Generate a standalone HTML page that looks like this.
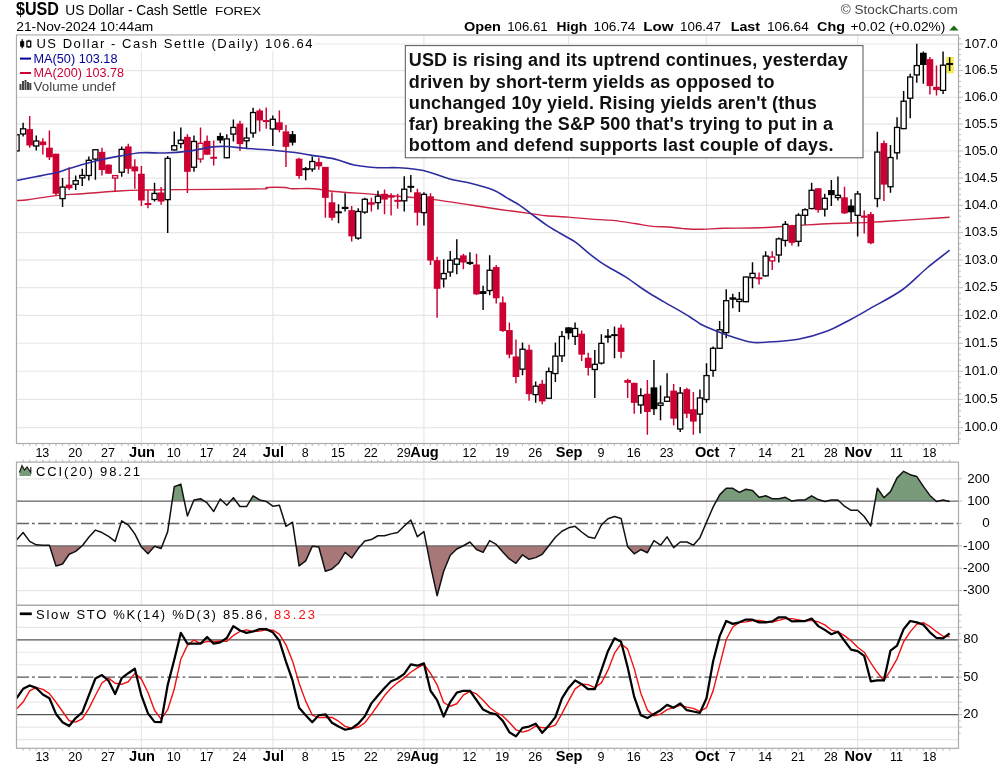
<!DOCTYPE html>
<html><head><meta charset="utf-8"><title>$USD</title><style>html,body{margin:0;padding:0;background:#fff;}body{width:1004px;height:769px;overflow:hidden;font-family:"Liberation Sans",sans-serif;}</style></head><body>
<svg width="1004" height="769" viewBox="0 0 1004 769" style="display:block;will-change:transform">
<rect x="0" y="0" width="1004" height="769" fill="#ffffff"/>
<text x="16" y="15.3" font-family="Liberation Sans, sans-serif" font-size="18.5" font-weight="bold" fill="#000" textLength="43" lengthAdjust="spacingAndGlyphs">$USD</text>
<text x="65.3" y="15.0" font-family="Liberation Sans, sans-serif" font-size="14" fill="#000" textLength="142" lengthAdjust="spacingAndGlyphs">US Dollar - Cash Settle</text>
<text x="215" y="15.0" font-family="Liberation Sans, sans-serif" font-size="11.5" fill="#000" textLength="46" lengthAdjust="spacingAndGlyphs">FOREX</text>
<text x="16.3" y="31" font-family="Liberation Sans, sans-serif" font-size="12" fill="#000" textLength="137" lengthAdjust="spacingAndGlyphs">21-Nov-2024 10:44am</text>
<text x="840.8" y="14" font-family="Liberation Sans, sans-serif" font-size="12" fill="#444" textLength="117" lengthAdjust="spacingAndGlyphs">© StockCharts.com</text>
<text x="463.9" y="30.7" font-family="Liberation Sans, sans-serif" font-size="13" font-weight="bold" fill="#000" textLength="37.1" lengthAdjust="spacingAndGlyphs">Open</text>
<text x="507.2" y="30.7" font-family="Liberation Sans, sans-serif" font-size="13" fill="#000" textLength="40.4" lengthAdjust="spacingAndGlyphs">106.61</text>
<text x="556.5" y="30.7" font-family="Liberation Sans, sans-serif" font-size="13" font-weight="bold" fill="#000" textLength="30.7" lengthAdjust="spacingAndGlyphs">High</text>
<text x="593.6" y="30.7" font-family="Liberation Sans, sans-serif" font-size="13" fill="#000" textLength="41.8" lengthAdjust="spacingAndGlyphs">106.74</text>
<text x="643.3" y="30.7" font-family="Liberation Sans, sans-serif" font-size="13" font-weight="bold" fill="#000" textLength="30.3" lengthAdjust="spacingAndGlyphs">Low</text>
<text x="680" y="30.7" font-family="Liberation Sans, sans-serif" font-size="13" fill="#000" textLength="41.0" lengthAdjust="spacingAndGlyphs">106.47</text>
<text x="730.7" y="30.7" font-family="Liberation Sans, sans-serif" font-size="13" font-weight="bold" fill="#000" textLength="29.3" lengthAdjust="spacingAndGlyphs">Last</text>
<text x="766.9" y="30.7" font-family="Liberation Sans, sans-serif" font-size="13" fill="#000" textLength="41.9" lengthAdjust="spacingAndGlyphs">106.64</text>
<text x="817.1" y="30.7" font-family="Liberation Sans, sans-serif" font-size="13" font-weight="bold" fill="#000" textLength="27.9" lengthAdjust="spacingAndGlyphs">Chg</text>
<text x="850.6" y="30.7" font-family="Liberation Sans, sans-serif" font-size="13" fill="#000" textLength="94.8" lengthAdjust="spacingAndGlyphs">+0.02 (+0.02%)</text>
<path d="M949.2 30.5 L958.6 30.5 L953.9 25.5 Z" fill="#1a6a1a"/>
<line x1="16.5" x2="958.5" y1="427.70" y2="427.70" stroke="#e7e7e7" stroke-width="1.2"/>
<line x1="16.5" x2="958.5" y1="399.42" y2="399.42" stroke="#e7e7e7" stroke-width="1.2"/>
<line x1="16.5" x2="958.5" y1="371.27" y2="371.27" stroke="#e7e7e7" stroke-width="1.2"/>
<line x1="16.5" x2="958.5" y1="343.27" y2="343.27" stroke="#e7e7e7" stroke-width="1.2"/>
<line x1="16.5" x2="958.5" y1="315.40" y2="315.40" stroke="#e7e7e7" stroke-width="1.2"/>
<line x1="16.5" x2="958.5" y1="287.67" y2="287.67" stroke="#e7e7e7" stroke-width="1.2"/>
<line x1="16.5" x2="958.5" y1="260.07" y2="260.07" stroke="#e7e7e7" stroke-width="1.2"/>
<line x1="16.5" x2="958.5" y1="232.61" y2="232.61" stroke="#e7e7e7" stroke-width="1.2"/>
<line x1="16.5" x2="958.5" y1="205.28" y2="205.28" stroke="#e7e7e7" stroke-width="1.2"/>
<line x1="16.5" x2="958.5" y1="178.08" y2="178.08" stroke="#e7e7e7" stroke-width="1.2"/>
<line x1="16.5" x2="958.5" y1="151.01" y2="151.01" stroke="#e7e7e7" stroke-width="1.2"/>
<line x1="16.5" x2="958.5" y1="124.07" y2="124.07" stroke="#e7e7e7" stroke-width="1.2"/>
<line x1="16.5" x2="958.5" y1="97.26" y2="97.26" stroke="#e7e7e7" stroke-width="1.2"/>
<line x1="16.5" x2="958.5" y1="70.57" y2="70.57" stroke="#e7e7e7" stroke-width="1.2"/>
<line x1="16.5" x2="958.5" y1="44.01" y2="44.01" stroke="#e7e7e7" stroke-width="1.2"/>
<line x1="141.40" x2="141.40" y1="35.0" y2="443.5" stroke="#e7e7e7" stroke-width="1.2"/>
<line x1="141.40" x2="141.40" y1="462.1" y2="605.3" stroke="#e7e7e7" stroke-width="1.2"/>
<line x1="141.40" x2="141.40" y1="605.3" y2="748.3" stroke="#e7e7e7" stroke-width="1.2"/>
<line x1="272.82" x2="272.82" y1="35.0" y2="443.5" stroke="#e7e7e7" stroke-width="1.2"/>
<line x1="272.82" x2="272.82" y1="462.1" y2="605.3" stroke="#e7e7e7" stroke-width="1.2"/>
<line x1="272.82" x2="272.82" y1="605.3" y2="748.3" stroke="#e7e7e7" stroke-width="1.2"/>
<line x1="423.95" x2="423.95" y1="35.0" y2="443.5" stroke="#e7e7e7" stroke-width="1.2"/>
<line x1="423.95" x2="423.95" y1="462.1" y2="605.3" stroke="#e7e7e7" stroke-width="1.2"/>
<line x1="423.95" x2="423.95" y1="605.3" y2="748.3" stroke="#e7e7e7" stroke-width="1.2"/>
<line x1="568.51" x2="568.51" y1="35.0" y2="443.5" stroke="#e7e7e7" stroke-width="1.2"/>
<line x1="568.51" x2="568.51" y1="462.1" y2="605.3" stroke="#e7e7e7" stroke-width="1.2"/>
<line x1="568.51" x2="568.51" y1="605.3" y2="748.3" stroke="#e7e7e7" stroke-width="1.2"/>
<line x1="706.51" x2="706.51" y1="35.0" y2="443.5" stroke="#e7e7e7" stroke-width="1.2"/>
<line x1="706.51" x2="706.51" y1="462.1" y2="605.3" stroke="#e7e7e7" stroke-width="1.2"/>
<line x1="706.51" x2="706.51" y1="605.3" y2="748.3" stroke="#e7e7e7" stroke-width="1.2"/>
<line x1="857.64" x2="857.64" y1="35.0" y2="443.5" stroke="#e7e7e7" stroke-width="1.2"/>
<line x1="857.64" x2="857.64" y1="462.1" y2="605.3" stroke="#e7e7e7" stroke-width="1.2"/>
<line x1="857.64" x2="857.64" y1="605.3" y2="748.3" stroke="#e7e7e7" stroke-width="1.2"/>
<line x1="958.5" x2="961.0" y1="439.05" y2="439.05" stroke="#bbb" stroke-width="1"/>
<line x1="958.5" x2="961.0" y1="433.37" y2="433.37" stroke="#bbb" stroke-width="1"/>
<line x1="958.5" x2="963.0" y1="427.70" y2="427.70" stroke="#bbb" stroke-width="1"/>
<line x1="958.5" x2="961.0" y1="422.03" y2="422.03" stroke="#bbb" stroke-width="1"/>
<line x1="958.5" x2="961.0" y1="416.37" y2="416.37" stroke="#bbb" stroke-width="1"/>
<line x1="958.5" x2="961.0" y1="410.71" y2="410.71" stroke="#bbb" stroke-width="1"/>
<line x1="958.5" x2="961.0" y1="405.06" y2="405.06" stroke="#bbb" stroke-width="1"/>
<line x1="958.5" x2="963.0" y1="399.42" y2="399.42" stroke="#bbb" stroke-width="1"/>
<line x1="958.5" x2="961.0" y1="393.78" y2="393.78" stroke="#bbb" stroke-width="1"/>
<line x1="958.5" x2="961.0" y1="388.14" y2="388.14" stroke="#bbb" stroke-width="1"/>
<line x1="958.5" x2="961.0" y1="382.51" y2="382.51" stroke="#bbb" stroke-width="1"/>
<line x1="958.5" x2="961.0" y1="376.89" y2="376.89" stroke="#bbb" stroke-width="1"/>
<line x1="958.5" x2="963.0" y1="371.27" y2="371.27" stroke="#bbb" stroke-width="1"/>
<line x1="958.5" x2="961.0" y1="365.66" y2="365.66" stroke="#bbb" stroke-width="1"/>
<line x1="958.5" x2="961.0" y1="360.05" y2="360.05" stroke="#bbb" stroke-width="1"/>
<line x1="958.5" x2="961.0" y1="354.45" y2="354.45" stroke="#bbb" stroke-width="1"/>
<line x1="958.5" x2="961.0" y1="348.86" y2="348.86" stroke="#bbb" stroke-width="1"/>
<line x1="958.5" x2="963.0" y1="343.27" y2="343.27" stroke="#bbb" stroke-width="1"/>
<line x1="958.5" x2="961.0" y1="337.68" y2="337.68" stroke="#bbb" stroke-width="1"/>
<line x1="958.5" x2="961.0" y1="332.10" y2="332.10" stroke="#bbb" stroke-width="1"/>
<line x1="958.5" x2="961.0" y1="326.53" y2="326.53" stroke="#bbb" stroke-width="1"/>
<line x1="958.5" x2="961.0" y1="320.96" y2="320.96" stroke="#bbb" stroke-width="1"/>
<line x1="958.5" x2="963.0" y1="315.40" y2="315.40" stroke="#bbb" stroke-width="1"/>
<line x1="958.5" x2="961.0" y1="309.84" y2="309.84" stroke="#bbb" stroke-width="1"/>
<line x1="958.5" x2="961.0" y1="304.29" y2="304.29" stroke="#bbb" stroke-width="1"/>
<line x1="958.5" x2="961.0" y1="298.74" y2="298.74" stroke="#bbb" stroke-width="1"/>
<line x1="958.5" x2="961.0" y1="293.20" y2="293.20" stroke="#bbb" stroke-width="1"/>
<line x1="958.5" x2="963.0" y1="287.67" y2="287.67" stroke="#bbb" stroke-width="1"/>
<line x1="958.5" x2="961.0" y1="282.14" y2="282.14" stroke="#bbb" stroke-width="1"/>
<line x1="958.5" x2="961.0" y1="276.61" y2="276.61" stroke="#bbb" stroke-width="1"/>
<line x1="958.5" x2="961.0" y1="271.09" y2="271.09" stroke="#bbb" stroke-width="1"/>
<line x1="958.5" x2="961.0" y1="265.58" y2="265.58" stroke="#bbb" stroke-width="1"/>
<line x1="958.5" x2="963.0" y1="260.07" y2="260.07" stroke="#bbb" stroke-width="1"/>
<line x1="958.5" x2="961.0" y1="254.57" y2="254.57" stroke="#bbb" stroke-width="1"/>
<line x1="958.5" x2="961.0" y1="249.07" y2="249.07" stroke="#bbb" stroke-width="1"/>
<line x1="958.5" x2="961.0" y1="243.58" y2="243.58" stroke="#bbb" stroke-width="1"/>
<line x1="958.5" x2="961.0" y1="238.09" y2="238.09" stroke="#bbb" stroke-width="1"/>
<line x1="958.5" x2="963.0" y1="232.61" y2="232.61" stroke="#bbb" stroke-width="1"/>
<line x1="958.5" x2="961.0" y1="227.13" y2="227.13" stroke="#bbb" stroke-width="1"/>
<line x1="958.5" x2="961.0" y1="221.66" y2="221.66" stroke="#bbb" stroke-width="1"/>
<line x1="958.5" x2="961.0" y1="216.20" y2="216.20" stroke="#bbb" stroke-width="1"/>
<line x1="958.5" x2="961.0" y1="210.73" y2="210.73" stroke="#bbb" stroke-width="1"/>
<line x1="958.5" x2="963.0" y1="205.28" y2="205.28" stroke="#bbb" stroke-width="1"/>
<line x1="958.5" x2="961.0" y1="199.83" y2="199.83" stroke="#bbb" stroke-width="1"/>
<line x1="958.5" x2="961.0" y1="194.38" y2="194.38" stroke="#bbb" stroke-width="1"/>
<line x1="958.5" x2="961.0" y1="188.94" y2="188.94" stroke="#bbb" stroke-width="1"/>
<line x1="958.5" x2="961.0" y1="183.51" y2="183.51" stroke="#bbb" stroke-width="1"/>
<line x1="958.5" x2="963.0" y1="178.08" y2="178.08" stroke="#bbb" stroke-width="1"/>
<line x1="958.5" x2="961.0" y1="172.66" y2="172.66" stroke="#bbb" stroke-width="1"/>
<line x1="958.5" x2="961.0" y1="167.24" y2="167.24" stroke="#bbb" stroke-width="1"/>
<line x1="958.5" x2="961.0" y1="161.82" y2="161.82" stroke="#bbb" stroke-width="1"/>
<line x1="958.5" x2="961.0" y1="156.41" y2="156.41" stroke="#bbb" stroke-width="1"/>
<line x1="958.5" x2="963.0" y1="151.01" y2="151.01" stroke="#bbb" stroke-width="1"/>
<line x1="958.5" x2="961.0" y1="145.61" y2="145.61" stroke="#bbb" stroke-width="1"/>
<line x1="958.5" x2="961.0" y1="140.22" y2="140.22" stroke="#bbb" stroke-width="1"/>
<line x1="958.5" x2="961.0" y1="134.83" y2="134.83" stroke="#bbb" stroke-width="1"/>
<line x1="958.5" x2="961.0" y1="129.45" y2="129.45" stroke="#bbb" stroke-width="1"/>
<line x1="958.5" x2="963.0" y1="124.07" y2="124.07" stroke="#bbb" stroke-width="1"/>
<line x1="958.5" x2="961.0" y1="118.70" y2="118.70" stroke="#bbb" stroke-width="1"/>
<line x1="958.5" x2="961.0" y1="113.33" y2="113.33" stroke="#bbb" stroke-width="1"/>
<line x1="958.5" x2="961.0" y1="107.97" y2="107.97" stroke="#bbb" stroke-width="1"/>
<line x1="958.5" x2="961.0" y1="102.61" y2="102.61" stroke="#bbb" stroke-width="1"/>
<line x1="958.5" x2="963.0" y1="97.26" y2="97.26" stroke="#bbb" stroke-width="1"/>
<line x1="958.5" x2="961.0" y1="91.91" y2="91.91" stroke="#bbb" stroke-width="1"/>
<line x1="958.5" x2="961.0" y1="86.57" y2="86.57" stroke="#bbb" stroke-width="1"/>
<line x1="958.5" x2="961.0" y1="81.23" y2="81.23" stroke="#bbb" stroke-width="1"/>
<line x1="958.5" x2="961.0" y1="75.90" y2="75.90" stroke="#bbb" stroke-width="1"/>
<line x1="958.5" x2="963.0" y1="70.57" y2="70.57" stroke="#bbb" stroke-width="1"/>
<line x1="958.5" x2="961.0" y1="65.25" y2="65.25" stroke="#bbb" stroke-width="1"/>
<line x1="958.5" x2="961.0" y1="59.93" y2="59.93" stroke="#bbb" stroke-width="1"/>
<line x1="958.5" x2="961.0" y1="54.62" y2="54.62" stroke="#bbb" stroke-width="1"/>
<line x1="958.5" x2="961.0" y1="49.31" y2="49.31" stroke="#bbb" stroke-width="1"/>
<line x1="958.5" x2="963.0" y1="44.01" y2="44.01" stroke="#bbb" stroke-width="1"/>
<line x1="958.5" x2="961.0" y1="38.71" y2="38.71" stroke="#bbb" stroke-width="1"/>
<text x="964.2" y="431.20" font-family="Liberation Sans, sans-serif" font-size="13.3" fill="#000" textLength="33.6" lengthAdjust="spacingAndGlyphs">100.0</text>
<text x="964.2" y="402.92" font-family="Liberation Sans, sans-serif" font-size="13.3" fill="#000" textLength="33.6" lengthAdjust="spacingAndGlyphs">100.5</text>
<text x="964.2" y="374.77" font-family="Liberation Sans, sans-serif" font-size="13.3" fill="#000" textLength="33.6" lengthAdjust="spacingAndGlyphs">101.0</text>
<text x="964.2" y="346.77" font-family="Liberation Sans, sans-serif" font-size="13.3" fill="#000" textLength="33.6" lengthAdjust="spacingAndGlyphs">101.5</text>
<text x="964.2" y="318.90" font-family="Liberation Sans, sans-serif" font-size="13.3" fill="#000" textLength="33.6" lengthAdjust="spacingAndGlyphs">102.0</text>
<text x="964.2" y="291.17" font-family="Liberation Sans, sans-serif" font-size="13.3" fill="#000" textLength="33.6" lengthAdjust="spacingAndGlyphs">102.5</text>
<text x="964.2" y="263.57" font-family="Liberation Sans, sans-serif" font-size="13.3" fill="#000" textLength="33.6" lengthAdjust="spacingAndGlyphs">103.0</text>
<text x="964.2" y="236.11" font-family="Liberation Sans, sans-serif" font-size="13.3" fill="#000" textLength="33.6" lengthAdjust="spacingAndGlyphs">103.5</text>
<text x="964.2" y="208.78" font-family="Liberation Sans, sans-serif" font-size="13.3" fill="#000" textLength="33.6" lengthAdjust="spacingAndGlyphs">104.0</text>
<text x="964.2" y="181.58" font-family="Liberation Sans, sans-serif" font-size="13.3" fill="#000" textLength="33.6" lengthAdjust="spacingAndGlyphs">104.5</text>
<text x="964.2" y="154.51" font-family="Liberation Sans, sans-serif" font-size="13.3" fill="#000" textLength="33.6" lengthAdjust="spacingAndGlyphs">105.0</text>
<text x="964.2" y="127.57" font-family="Liberation Sans, sans-serif" font-size="13.3" fill="#000" textLength="33.6" lengthAdjust="spacingAndGlyphs">105.5</text>
<text x="964.2" y="100.76" font-family="Liberation Sans, sans-serif" font-size="13.3" fill="#000" textLength="33.6" lengthAdjust="spacingAndGlyphs">106.0</text>
<text x="964.2" y="74.07" font-family="Liberation Sans, sans-serif" font-size="13.3" fill="#000" textLength="33.6" lengthAdjust="spacingAndGlyphs">106.5</text>
<text x="964.2" y="47.51" font-family="Liberation Sans, sans-serif" font-size="13.3" fill="#000" textLength="33.6" lengthAdjust="spacingAndGlyphs">107.0</text>
<path d="M16.50 200.50 C18.45 200.37 21.70 200.52 28.20 199.70 C34.70 198.88 46.40 196.60 55.50 195.60 C64.60 194.60 72.18 194.47 82.80 193.70 C93.42 192.93 109.48 191.60 119.20 191.00 C128.92 190.40 130.97 190.33 141.10 190.10 C151.23 189.87 160.25 189.80 180.00 189.60 C199.75 189.40 245.12 189.25 259.60 188.90 C274.08 188.55 262.65 187.73 266.90 187.50 C271.15 187.27 280.85 187.30 285.10 187.50 C289.35 187.70 287.53 188.50 292.40 188.70 C297.27 188.90 307.20 188.23 314.30 188.70 C321.40 189.17 325.63 190.60 335.00 191.50 C344.37 192.40 360.03 193.30 370.50 194.10 C380.97 194.90 390.22 195.68 397.80 196.30 C405.38 196.92 409.93 197.25 416.00 197.80 C422.07 198.35 425.10 198.40 434.20 199.60 C443.30 200.80 460.47 203.48 470.60 205.00 C480.73 206.52 489.75 207.90 495.00 208.70 C500.25 209.50 496.12 208.98 502.10 209.80 C508.08 210.62 523.53 212.60 530.90 213.60 C538.27 214.60 540.05 215.22 546.30 215.80 C552.55 216.38 561.03 216.55 568.40 217.10 C575.77 217.65 583.12 218.55 590.50 219.10 C597.88 219.65 605.32 219.67 612.70 220.40 C620.08 221.13 628.17 222.50 634.80 223.50 C641.43 224.50 646.98 225.82 652.50 226.40 C658.02 226.98 662.75 226.63 667.90 227.00 C673.05 227.37 678.05 228.22 683.40 228.60 C688.75 228.98 693.28 229.37 700.00 229.30 C706.72 229.23 713.70 228.45 723.70 228.20 C733.70 227.95 747.28 228.28 760.00 227.80 C772.72 227.32 787.87 226.02 800.00 225.30 C812.13 224.58 821.13 223.98 832.80 223.50 C844.47 223.02 857.87 222.97 870.00 222.40 C882.13 221.83 895.60 220.75 905.60 220.10 C915.60 219.45 922.67 218.97 930.00 218.50 C937.33 218.03 946.33 217.50 949.60 217.30" fill="none" stroke="#cc2244" stroke-width="1.4"/>
<rect x="946.1" y="56.9" width="7.7" height="16.4" fill="#f2ec50"/>
<clipPath id="cm"><rect x="16.5" y="35.0" width="942.0" height="408.5"/></clipPath>
<g clip-path="url(#cm)">
<line x1="16.55" x2="16.55" y1="134.22" y2="151.51" stroke="#000000" stroke-width="1.45"/>
<rect x="14.00" y="134.82" width="5.10" height="16.09" fill="#fff" stroke="#000000" stroke-width="1.3"/>
<line x1="23.12" x2="23.12" y1="122.75" y2="136.40" stroke="#000000" stroke-width="1.45"/>
<rect x="20.57" y="128.81" width="5.10" height="5.17" fill="#fff" stroke="#000000" stroke-width="1.3"/>
<line x1="29.69" x2="29.69" y1="116.02" y2="147.69" stroke="#cc0033" stroke-width="1.45"/>
<rect x="26.34" y="129.12" width="6.70" height="16.38" fill="#cc0033"/>
<line x1="36.26" x2="36.26" y1="135.49" y2="150.60" stroke="#000000" stroke-width="1.45"/>
<rect x="33.71" y="141.01" width="5.10" height="4.99" fill="#fff" stroke="#000000" stroke-width="1.3"/>
<line x1="42.84" x2="42.84" y1="138.22" y2="154.61" stroke="#cc0033" stroke-width="1.45"/>
<rect x="39.49" y="141.50" width="6.70" height="3.64" fill="#cc0033"/>
<line x1="49.41" x2="49.41" y1="130.58" y2="160.07" stroke="#cc0033" stroke-width="1.45"/>
<rect x="46.06" y="147.69" width="6.70" height="9.65" fill="#cc0033"/>
<line x1="55.98" x2="55.98" y1="153.69" y2="195.56" stroke="#cc0033" stroke-width="1.45"/>
<rect x="52.63" y="153.69" width="6.70" height="40.04" fill="#cc0033"/>
<line x1="62.55" x2="62.55" y1="177.90" y2="207.03" stroke="#000000" stroke-width="1.45"/>
<rect x="60.00" y="187.06" width="5.10" height="11.54" fill="#fff" stroke="#000000" stroke-width="1.3"/>
<line x1="69.12" x2="69.12" y1="167.35" y2="190.10" stroke="#cc0033" stroke-width="1.45"/>
<rect x="65.77" y="184.64" width="6.70" height="3.64" fill="#cc0033"/>
<line x1="75.69" x2="75.69" y1="175.54" y2="190.10" stroke="#000000" stroke-width="1.45"/>
<rect x="73.14" y="180.69" width="5.10" height="3.53" fill="#fff" stroke="#000000" stroke-width="1.3"/>
<line x1="82.26" x2="82.26" y1="168.80" y2="185.91" stroke="#000000" stroke-width="1.45"/>
<rect x="79.71" y="175.41" width="5.10" height="2.44" fill="#fff" stroke="#000000" stroke-width="1.3"/>
<line x1="88.83" x2="88.83" y1="156.43" y2="180.45" stroke="#000000" stroke-width="1.45"/>
<rect x="86.28" y="160.30" width="5.10" height="15.18" fill="#fff" stroke="#000000" stroke-width="1.3"/>
<line x1="95.40" x2="95.40" y1="149.14" y2="179.72" stroke="#000000" stroke-width="1.45"/>
<rect x="92.85" y="149.74" width="5.10" height="9.36" fill="#fff" stroke="#000000" stroke-width="1.3"/>
<line x1="101.97" x2="101.97" y1="147.69" y2="175.54" stroke="#cc0033" stroke-width="1.45"/>
<rect x="98.62" y="151.87" width="6.70" height="18.20" fill="#cc0033"/>
<line x1="108.55" x2="108.55" y1="164.62" y2="173.72" stroke="#cc0033" stroke-width="1.45"/>
<rect x="105.20" y="164.62" width="6.70" height="9.10" fill="#cc0033"/>
<line x1="115.12" x2="115.12" y1="174.99" y2="191.92" stroke="#cc0033" stroke-width="1.45"/>
<rect x="112.57" y="175.59" width="5.10" height="2.44" fill="#fff" stroke="#cc0033" stroke-width="1.3"/>
<line x1="121.69" x2="121.69" y1="146.41" y2="176.81" stroke="#000000" stroke-width="1.45"/>
<rect x="119.14" y="149.38" width="5.10" height="22.83" fill="#fff" stroke="#000000" stroke-width="1.3"/>
<line x1="128.26" x2="128.26" y1="143.68" y2="173.72" stroke="#cc0033" stroke-width="1.45"/>
<rect x="124.91" y="146.41" width="6.70" height="22.39" fill="#cc0033"/>
<line x1="134.83" x2="134.83" y1="159.16" y2="188.82" stroke="#cc0033" stroke-width="1.45"/>
<rect x="131.48" y="166.44" width="6.70" height="4.91" fill="#cc0033"/>
<line x1="141.40" x2="141.40" y1="165.89" y2="205.93" stroke="#cc0033" stroke-width="1.45"/>
<rect x="138.05" y="173.72" width="6.70" height="26.76" fill="#cc0033"/>
<line x1="147.97" x2="147.97" y1="190.10" y2="208.30" stroke="#cc0033" stroke-width="1.45"/>
<rect x="144.62" y="203.02" width="6.70" height="2.00" fill="#cc0033"/>
<line x1="154.54" x2="154.54" y1="182.82" y2="201.57" stroke="#000000" stroke-width="1.45"/>
<rect x="151.99" y="193.43" width="5.10" height="6.08" fill="#fff" stroke="#000000" stroke-width="1.3"/>
<line x1="161.11" x2="161.11" y1="187.00" y2="204.66" stroke="#cc0033" stroke-width="1.45"/>
<rect x="157.76" y="192.46" width="6.70" height="9.10" fill="#cc0033"/>
<line x1="167.68" x2="167.68" y1="155.98" y2="232.97" stroke="#000000" stroke-width="1.45"/>
<rect x="165.13" y="158.40" width="5.10" height="41.21" fill="#fff" stroke="#000000" stroke-width="1.3"/>
<line x1="174.25" x2="174.25" y1="131.40" y2="150.52" stroke="#000000" stroke-width="1.45"/>
<rect x="171.70" y="145.65" width="5.10" height="4.26" fill="#fff" stroke="#000000" stroke-width="1.3"/>
<line x1="180.83" x2="180.83" y1="127.40" y2="148.15" stroke="#000000" stroke-width="1.45"/>
<rect x="178.28" y="140.19" width="5.10" height="3.35" fill="#fff" stroke="#000000" stroke-width="1.3"/>
<line x1="187.40" x2="187.40" y1="134.13" y2="192.93" stroke="#cc0033" stroke-width="1.45"/>
<rect x="184.05" y="136.86" width="6.70" height="34.95" fill="#cc0033"/>
<line x1="193.97" x2="193.97" y1="135.41" y2="171.81" stroke="#000000" stroke-width="1.45"/>
<rect x="191.42" y="141.47" width="5.10" height="25.74" fill="#fff" stroke="#000000" stroke-width="1.3"/>
<line x1="200.54" x2="200.54" y1="127.40" y2="162.71" stroke="#cc0033" stroke-width="1.45"/>
<rect x="197.99" y="143.29" width="5.10" height="15.73" fill="#fff" stroke="#cc0033" stroke-width="1.3"/>
<line x1="207.11" x2="207.11" y1="135.41" y2="154.70" stroke="#cc0033" stroke-width="1.45"/>
<rect x="203.76" y="140.87" width="6.70" height="13.83" fill="#cc0033"/>
<line x1="213.68" x2="213.68" y1="140.50" y2="165.62" stroke="#cc0033" stroke-width="1.45"/>
<rect x="210.33" y="156.80" width="6.70" height="2.00" fill="#cc0033"/>
<line x1="220.25" x2="220.25" y1="132.86" y2="143.23" stroke="#000000" stroke-width="1.45"/>
<rect x="216.90" y="135.95" width="6.70" height="4.55" fill="#000000"/>
<line x1="226.82" x2="226.82" y1="134.13" y2="158.34" stroke="#000000" stroke-width="1.45"/>
<rect x="224.27" y="138.92" width="5.10" height="18.82" fill="#fff" stroke="#000000" stroke-width="1.3"/>
<line x1="233.39" x2="233.39" y1="119.57" y2="141.41" stroke="#000000" stroke-width="1.45"/>
<rect x="230.84" y="127.45" width="5.10" height="6.63" fill="#fff" stroke="#000000" stroke-width="1.3"/>
<line x1="239.97" x2="239.97" y1="120.85" y2="151.06" stroke="#cc0033" stroke-width="1.45"/>
<rect x="236.62" y="123.58" width="6.70" height="20.57" fill="#cc0033"/>
<line x1="246.54" x2="246.54" y1="127.40" y2="148.69" stroke="#000000" stroke-width="1.45"/>
<rect x="243.99" y="138.01" width="5.10" height="2.80" fill="#fff" stroke="#000000" stroke-width="1.3"/>
<line x1="253.11" x2="253.11" y1="107.74" y2="137.77" stroke="#000000" stroke-width="1.45"/>
<rect x="250.56" y="112.53" width="5.10" height="20.46" fill="#fff" stroke="#000000" stroke-width="1.3"/>
<line x1="259.68" x2="259.68" y1="108.65" y2="131.40" stroke="#cc0033" stroke-width="1.45"/>
<rect x="256.33" y="110.47" width="6.70" height="10.01" fill="#cc0033"/>
<line x1="266.25" x2="266.25" y1="107.38" y2="128.67" stroke="#cc0033" stroke-width="1.45"/>
<rect x="262.90" y="120.03" width="6.70" height="2.00" fill="#cc0033"/>
<line x1="272.82" x2="272.82" y1="115.39" y2="145.96" stroke="#000000" stroke-width="1.45"/>
<rect x="270.27" y="119.26" width="5.10" height="9.72" fill="#fff" stroke="#000000" stroke-width="1.3"/>
<line x1="279.39" x2="279.39" y1="110.47" y2="132.31" stroke="#cc0033" stroke-width="1.45"/>
<rect x="276.04" y="122.30" width="6.70" height="7.64" fill="#cc0033"/>
<line x1="285.96" x2="285.96" y1="125.03" y2="166.90" stroke="#cc0033" stroke-width="1.45"/>
<rect x="282.61" y="131.40" width="6.70" height="15.47" fill="#cc0033"/>
<line x1="292.53" x2="292.53" y1="131.04" y2="145.60" stroke="#000000" stroke-width="1.45"/>
<rect x="289.18" y="134.13" width="6.70" height="8.55" fill="#000000"/>
<line x1="299.10" x2="299.10" y1="157.80" y2="178.73" stroke="#cc0033" stroke-width="1.45"/>
<rect x="295.75" y="158.71" width="6.70" height="17.29" fill="#cc0033"/>
<line x1="305.68" x2="305.68" y1="166.90" y2="180.18" stroke="#000000" stroke-width="1.45"/>
<rect x="302.33" y="168.17" width="6.70" height="2.00" fill="#000000"/>
<line x1="312.25" x2="312.25" y1="156.52" y2="171.81" stroke="#000000" stroke-width="1.45"/>
<rect x="309.70" y="161.49" width="5.10" height="7.54" fill="#fff" stroke="#000000" stroke-width="1.3"/>
<line x1="318.82" x2="318.82" y1="157.80" y2="169.63" stroke="#cc0033" stroke-width="1.45"/>
<rect x="315.47" y="161.98" width="6.70" height="4.37" fill="#cc0033"/>
<line x1="325.39" x2="325.39" y1="166.90" y2="217.86" stroke="#cc0033" stroke-width="1.45"/>
<rect x="322.04" y="166.90" width="6.70" height="30.94" fill="#cc0033"/>
<line x1="331.96" x2="331.96" y1="192.30" y2="220.52" stroke="#cc0033" stroke-width="1.45"/>
<rect x="328.61" y="202.31" width="6.70" height="15.47" fill="#cc0033"/>
<line x1="338.53" x2="338.53" y1="204.13" y2="223.25" stroke="#000000" stroke-width="1.45"/>
<rect x="335.18" y="211.32" width="6.70" height="2.00" fill="#000000"/>
<line x1="345.10" x2="345.10" y1="193.21" y2="211.41" stroke="#000000" stroke-width="1.45"/>
<rect x="341.75" y="206.86" width="6.70" height="2.18" fill="#000000"/>
<line x1="351.67" x2="351.67" y1="205.95" y2="241.45" stroke="#cc0033" stroke-width="1.45"/>
<rect x="348.32" y="210.14" width="6.70" height="26.21" fill="#cc0033"/>
<line x1="358.24" x2="358.24" y1="208.32" y2="239.63" stroke="#000000" stroke-width="1.45"/>
<rect x="355.69" y="211.47" width="5.10" height="26.65" fill="#fff" stroke="#000000" stroke-width="1.3"/>
<line x1="364.81" x2="364.81" y1="197.76" y2="213.78" stroke="#000000" stroke-width="1.45"/>
<rect x="362.26" y="199.27" width="5.10" height="12.82" fill="#fff" stroke="#000000" stroke-width="1.3"/>
<line x1="371.38" x2="371.38" y1="197.76" y2="211.41" stroke="#cc0033" stroke-width="1.45"/>
<rect x="368.04" y="202.31" width="6.70" height="2.37" fill="#cc0033"/>
<line x1="377.96" x2="377.96" y1="190.85" y2="209.59" stroke="#000000" stroke-width="1.45"/>
<rect x="375.41" y="196.18" width="5.10" height="6.44" fill="#fff" stroke="#000000" stroke-width="1.3"/>
<line x1="384.53" x2="384.53" y1="189.57" y2="214.14" stroke="#cc0033" stroke-width="1.45"/>
<rect x="381.18" y="193.76" width="6.70" height="5.82" fill="#cc0033"/>
<line x1="391.10" x2="391.10" y1="193.21" y2="215.60" stroke="#cc0033" stroke-width="1.45"/>
<rect x="387.75" y="195.67" width="6.70" height="2.00" fill="#cc0033"/>
<line x1="397.67" x2="397.67" y1="193.76" y2="208.68" stroke="#cc0033" stroke-width="1.45"/>
<rect x="394.32" y="199.86" width="6.70" height="2.00" fill="#cc0033"/>
<line x1="404.24" x2="404.24" y1="176.29" y2="211.41" stroke="#000000" stroke-width="1.45"/>
<rect x="401.69" y="189.26" width="5.10" height="11.54" fill="#fff" stroke="#000000" stroke-width="1.3"/>
<line x1="410.81" x2="410.81" y1="175.01" y2="192.30" stroke="#000000" stroke-width="1.45"/>
<rect x="407.46" y="185.84" width="6.70" height="2.00" fill="#000000"/>
<line x1="417.38" x2="417.38" y1="188.66" y2="225.43" stroke="#cc0033" stroke-width="1.45"/>
<rect x="414.03" y="192.30" width="6.70" height="20.39" fill="#cc0033"/>
<line x1="423.95" x2="423.95" y1="192.30" y2="225.43" stroke="#000000" stroke-width="1.45"/>
<rect x="421.40" y="194.36" width="5.10" height="18.28" fill="#fff" stroke="#000000" stroke-width="1.3"/>
<line x1="430.52" x2="430.52" y1="193.21" y2="265.11" stroke="#cc0033" stroke-width="1.45"/>
<rect x="427.17" y="196.31" width="6.70" height="64.25" fill="#cc0033"/>
<line x1="437.10" x2="437.10" y1="256.66" y2="317.78" stroke="#cc0033" stroke-width="1.45"/>
<rect x="433.75" y="260.17" width="6.70" height="28.61" fill="#cc0033"/>
<line x1="443.67" x2="443.67" y1="259.26" y2="287.48" stroke="#000000" stroke-width="1.45"/>
<rect x="441.12" y="273.51" width="5.10" height="5.30" fill="#fff" stroke="#000000" stroke-width="1.3"/>
<line x1="450.24" x2="450.24" y1="251.07" y2="276.81" stroke="#000000" stroke-width="1.45"/>
<rect x="447.69" y="260.25" width="5.10" height="11.80" fill="#fff" stroke="#000000" stroke-width="1.3"/>
<line x1="456.81" x2="456.81" y1="239.36" y2="274.21" stroke="#000000" stroke-width="1.45"/>
<rect x="454.26" y="258.95" width="5.10" height="5.30" fill="#fff" stroke="#000000" stroke-width="1.3"/>
<line x1="463.38" x2="463.38" y1="253.67" y2="269.27" stroke="#cc0033" stroke-width="1.45"/>
<rect x="460.03" y="255.36" width="6.70" height="7.15" fill="#cc0033"/>
<line x1="469.95" x2="469.95" y1="252.37" y2="265.11" stroke="#000000" stroke-width="1.45"/>
<rect x="466.60" y="261.86" width="6.70" height="2.21" fill="#000000"/>
<line x1="476.52" x2="476.52" y1="253.67" y2="295.02" stroke="#cc0033" stroke-width="1.45"/>
<rect x="473.17" y="264.46" width="6.70" height="29.91" fill="#cc0033"/>
<line x1="483.09" x2="483.09" y1="285.66" y2="309.97" stroke="#000000" stroke-width="1.45"/>
<rect x="479.74" y="291.12" width="6.70" height="2.86" fill="#000000"/>
<line x1="489.66" x2="489.66" y1="255.36" y2="295.28" stroke="#000000" stroke-width="1.45"/>
<rect x="487.11" y="270.26" width="5.10" height="20.26" fill="#fff" stroke="#000000" stroke-width="1.3"/>
<line x1="496.23" x2="496.23" y1="265.11" y2="303.47" stroke="#cc0033" stroke-width="1.45"/>
<rect x="492.88" y="267.06" width="6.70" height="31.21" fill="#cc0033"/>
<line x1="502.80" x2="502.80" y1="296.39" y2="331.89" stroke="#cc0033" stroke-width="1.45"/>
<rect x="499.45" y="302.40" width="6.70" height="28.58" fill="#cc0033"/>
<line x1="509.38" x2="509.38" y1="322.42" y2="358.28" stroke="#cc0033" stroke-width="1.45"/>
<rect x="506.03" y="330.07" width="6.70" height="24.57" fill="#cc0033"/>
<line x1="515.95" x2="515.95" y1="339.53" y2="383.21" stroke="#cc0033" stroke-width="1.45"/>
<rect x="512.60" y="356.46" width="6.70" height="20.57" fill="#cc0033"/>
<line x1="522.52" x2="522.52" y1="342.44" y2="375.21" stroke="#000000" stroke-width="1.45"/>
<rect x="519.97" y="349.23" width="5.10" height="19.91" fill="#fff" stroke="#000000" stroke-width="1.3"/>
<line x1="529.09" x2="529.09" y1="344.63" y2="400.69" stroke="#cc0033" stroke-width="1.45"/>
<rect x="525.74" y="349.72" width="6.70" height="44.41" fill="#cc0033"/>
<line x1="535.66" x2="535.66" y1="381.39" y2="402.87" stroke="#000000" stroke-width="1.45"/>
<rect x="533.11" y="386.18" width="5.10" height="8.45" fill="#fff" stroke="#000000" stroke-width="1.3"/>
<line x1="542.23" x2="542.23" y1="380.12" y2="404.33" stroke="#cc0033" stroke-width="1.45"/>
<rect x="538.88" y="383.76" width="6.70" height="17.66" fill="#cc0033"/>
<line x1="548.80" x2="548.80" y1="367.38" y2="398.87" stroke="#000000" stroke-width="1.45"/>
<rect x="546.25" y="371.62" width="5.10" height="26.65" fill="#fff" stroke="#000000" stroke-width="1.3"/>
<line x1="555.37" x2="555.37" y1="342.44" y2="381.94" stroke="#000000" stroke-width="1.45"/>
<rect x="552.82" y="356.15" width="5.10" height="17.37" fill="#fff" stroke="#000000" stroke-width="1.3"/>
<line x1="561.94" x2="561.94" y1="330.98" y2="361.92" stroke="#000000" stroke-width="1.45"/>
<rect x="559.39" y="336.49" width="5.10" height="19.37" fill="#fff" stroke="#000000" stroke-width="1.3"/>
<line x1="568.51" x2="568.51" y1="327.34" y2="339.53" stroke="#000000" stroke-width="1.45"/>
<rect x="565.16" y="327.34" width="6.70" height="6.01" fill="#000000"/>
<line x1="575.09" x2="575.09" y1="322.42" y2="344.99" stroke="#000000" stroke-width="1.45"/>
<rect x="572.54" y="328.48" width="5.10" height="7.90" fill="#fff" stroke="#000000" stroke-width="1.3"/>
<line x1="581.66" x2="581.66" y1="330.43" y2="361.01" stroke="#cc0033" stroke-width="1.45"/>
<rect x="578.31" y="333.71" width="6.70" height="20.93" fill="#cc0033"/>
<line x1="588.23" x2="588.23" y1="352.82" y2="375.57" stroke="#cc0033" stroke-width="1.45"/>
<rect x="584.88" y="357.73" width="6.70" height="10.19" fill="#cc0033"/>
<line x1="594.80" x2="594.80" y1="350.05" y2="397.93" stroke="#000000" stroke-width="1.45"/>
<rect x="592.25" y="364.31" width="5.10" height="5.17" fill="#fff" stroke="#000000" stroke-width="1.3"/>
<line x1="601.37" x2="601.37" y1="334.22" y2="364.62" stroke="#000000" stroke-width="1.45"/>
<rect x="598.82" y="343.37" width="5.10" height="19.73" fill="#fff" stroke="#000000" stroke-width="1.3"/>
<line x1="607.94" x2="607.94" y1="329.12" y2="342.77" stroke="#000000" stroke-width="1.45"/>
<rect x="604.59" y="335.49" width="6.70" height="2.37" fill="#000000"/>
<line x1="614.51" x2="614.51" y1="326.39" y2="358.25" stroke="#000000" stroke-width="1.45"/>
<rect x="611.16" y="334.13" width="6.70" height="2.00" fill="#000000"/>
<line x1="621.08" x2="621.08" y1="324.57" y2="358.25" stroke="#cc0033" stroke-width="1.45"/>
<rect x="617.73" y="327.67" width="6.70" height="24.21" fill="#cc0033"/>
<line x1="627.65" x2="627.65" y1="378.63" y2="397.93" stroke="#cc0033" stroke-width="1.45"/>
<rect x="624.30" y="380.09" width="6.70" height="2.73" fill="#cc0033"/>
<line x1="634.23" x2="634.23" y1="382.82" y2="413.76" stroke="#cc0033" stroke-width="1.45"/>
<rect x="630.88" y="382.82" width="6.70" height="20.02" fill="#cc0033"/>
<line x1="640.80" x2="640.80" y1="388.28" y2="413.76" stroke="#000000" stroke-width="1.45"/>
<rect x="638.25" y="395.61" width="5.10" height="9.36" fill="#fff" stroke="#000000" stroke-width="1.3"/>
<line x1="647.37" x2="647.37" y1="380.09" y2="434.69" stroke="#cc0033" stroke-width="1.45"/>
<rect x="644.02" y="393.74" width="6.70" height="18.20" fill="#cc0033"/>
<line x1="653.94" x2="653.94" y1="360.07" y2="415.03" stroke="#000000" stroke-width="1.45"/>
<rect x="650.59" y="387.37" width="6.70" height="21.84" fill="#000000"/>
<line x1="660.51" x2="660.51" y1="385.55" y2="420.13" stroke="#000000" stroke-width="1.45"/>
<rect x="657.96" y="403.10" width="5.10" height="2.20" fill="#fff" stroke="#000000" stroke-width="1.3"/>
<line x1="667.08" x2="667.08" y1="373.17" y2="401.93" stroke="#000000" stroke-width="1.45"/>
<rect x="664.53" y="397.07" width="5.10" height="4.26" fill="#fff" stroke="#000000" stroke-width="1.3"/>
<line x1="673.65" x2="673.65" y1="384.09" y2="425.59" stroke="#cc0033" stroke-width="1.45"/>
<rect x="670.30" y="390.64" width="6.70" height="28.03" fill="#cc0033"/>
<line x1="680.22" x2="680.22" y1="387.00" y2="431.96" stroke="#000000" stroke-width="1.45"/>
<rect x="677.67" y="393.06" width="5.10" height="35.93" fill="#fff" stroke="#000000" stroke-width="1.3"/>
<line x1="686.79" x2="686.79" y1="387.73" y2="417.95" stroke="#cc0033" stroke-width="1.45"/>
<rect x="683.44" y="389.19" width="6.70" height="24.57" fill="#cc0033"/>
<line x1="693.36" x2="693.36" y1="391.92" y2="434.69" stroke="#cc0033" stroke-width="1.45"/>
<rect x="690.01" y="409.21" width="6.70" height="12.38" fill="#cc0033"/>
<line x1="699.93" x2="699.93" y1="389.55" y2="433.24" stroke="#000000" stroke-width="1.45"/>
<rect x="697.38" y="397.98" width="5.10" height="16.09" fill="#fff" stroke="#000000" stroke-width="1.3"/>
<line x1="706.51" x2="706.51" y1="363.34" y2="402.84" stroke="#000000" stroke-width="1.45"/>
<rect x="703.96" y="375.59" width="5.10" height="23.92" fill="#fff" stroke="#000000" stroke-width="1.3"/>
<line x1="713.08" x2="713.08" y1="346.41" y2="376.81" stroke="#000000" stroke-width="1.45"/>
<rect x="710.53" y="348.29" width="5.10" height="22.10" fill="#fff" stroke="#000000" stroke-width="1.3"/>
<line x1="719.65" x2="719.65" y1="321.02" y2="348.87" stroke="#000000" stroke-width="1.45"/>
<rect x="717.10" y="329.81" width="5.10" height="18.46" fill="#fff" stroke="#000000" stroke-width="1.3"/>
<line x1="726.22" x2="726.22" y1="289.17" y2="338.31" stroke="#000000" stroke-width="1.45"/>
<rect x="723.67" y="300.69" width="5.10" height="31.93" fill="#fff" stroke="#000000" stroke-width="1.3"/>
<line x1="732.79" x2="732.79" y1="293.72" y2="308.28" stroke="#000000" stroke-width="1.45"/>
<rect x="729.44" y="297.36" width="6.70" height="2.37" fill="#000000"/>
<line x1="739.36" x2="739.36" y1="291.90" y2="311.92" stroke="#000000" stroke-width="1.45"/>
<rect x="736.81" y="299.26" width="5.10" height="2.20" fill="#fff" stroke="#000000" stroke-width="1.3"/>
<line x1="745.93" x2="745.93" y1="276.43" y2="302.27" stroke="#000000" stroke-width="1.45"/>
<rect x="743.38" y="277.03" width="5.10" height="24.65" fill="#fff" stroke="#000000" stroke-width="1.3"/>
<line x1="752.50" x2="752.50" y1="262.23" y2="288.26" stroke="#000000" stroke-width="1.45"/>
<rect x="749.95" y="273.38" width="5.10" height="4.26" fill="#fff" stroke="#000000" stroke-width="1.3"/>
<line x1="759.07" x2="759.07" y1="272.42" y2="284.62" stroke="#cc0033" stroke-width="1.45"/>
<rect x="755.72" y="277.25" width="6.70" height="2.00" fill="#cc0033"/>
<line x1="765.64" x2="765.64" y1="251.31" y2="276.43" stroke="#000000" stroke-width="1.45"/>
<rect x="763.10" y="256.09" width="5.10" height="19.73" fill="#fff" stroke="#000000" stroke-width="1.3"/>
<line x1="772.22" x2="772.22" y1="251.31" y2="270.05" stroke="#cc0033" stroke-width="1.45"/>
<rect x="769.67" y="257.00" width="5.10" height="3.90" fill="#fff" stroke="#cc0033" stroke-width="1.3"/>
<line x1="778.79" x2="778.79" y1="237.39" y2="262.51" stroke="#000000" stroke-width="1.45"/>
<rect x="776.24" y="238.90" width="5.10" height="16.09" fill="#fff" stroke="#000000" stroke-width="1.3"/>
<line x1="785.36" x2="785.36" y1="221.01" y2="246.49" stroke="#000000" stroke-width="1.45"/>
<rect x="782.81" y="224.34" width="5.10" height="16.09" fill="#fff" stroke="#000000" stroke-width="1.3"/>
<line x1="791.93" x2="791.93" y1="224.65" y2="245.58" stroke="#cc0033" stroke-width="1.45"/>
<rect x="788.58" y="225.56" width="6.70" height="17.29" fill="#cc0033"/>
<line x1="798.50" x2="798.50" y1="213.36" y2="246.49" stroke="#000000" stroke-width="1.45"/>
<rect x="795.95" y="215.24" width="5.10" height="26.10" fill="#fff" stroke="#000000" stroke-width="1.3"/>
<line x1="805.07" x2="805.07" y1="208.27" y2="224.65" stroke="#000000" stroke-width="1.45"/>
<rect x="802.52" y="209.78" width="5.10" height="5.53" fill="#fff" stroke="#000000" stroke-width="1.3"/>
<line x1="811.64" x2="811.64" y1="182.78" y2="209.18" stroke="#000000" stroke-width="1.45"/>
<rect x="809.09" y="190.30" width="5.10" height="18.28" fill="#fff" stroke="#000000" stroke-width="1.3"/>
<line x1="818.21" x2="818.21" y1="188.25" y2="212.82" stroke="#cc0033" stroke-width="1.45"/>
<rect x="814.86" y="188.25" width="6.70" height="21.84" fill="#cc0033"/>
<line x1="824.78" x2="824.78" y1="193.71" y2="216.46" stroke="#000000" stroke-width="1.45"/>
<rect x="822.23" y="198.31" width="5.10" height="10.81" fill="#fff" stroke="#000000" stroke-width="1.3"/>
<line x1="831.35" x2="831.35" y1="180.05" y2="206.08" stroke="#000000" stroke-width="1.45"/>
<rect x="828.00" y="190.07" width="6.70" height="5.10" fill="#000000"/>
<line x1="837.93" x2="837.93" y1="176.41" y2="200.62" stroke="#000000" stroke-width="1.45"/>
<rect x="835.38" y="195.34" width="5.10" height="2.20" fill="#fff" stroke="#000000" stroke-width="1.3"/>
<line x1="844.50" x2="844.50" y1="186.79" y2="214.09" stroke="#cc0033" stroke-width="1.45"/>
<rect x="841.15" y="197.35" width="6.70" height="16.02" fill="#cc0033"/>
<line x1="851.07" x2="851.07" y1="199.17" y2="221.92" stroke="#000000" stroke-width="1.45"/>
<rect x="847.72" y="205.54" width="6.70" height="6.73" fill="#000000"/>
<line x1="857.64" x2="857.64" y1="190.98" y2="236.48" stroke="#000000" stroke-width="1.45"/>
<rect x="855.09" y="193.94" width="5.10" height="21.37" fill="#fff" stroke="#000000" stroke-width="1.3"/>
<line x1="864.21" x2="864.21" y1="210.45" y2="233.39" stroke="#cc0033" stroke-width="1.45"/>
<rect x="860.86" y="215.55" width="6.70" height="2.18" fill="#cc0033"/>
<line x1="870.78" x2="870.78" y1="211.91" y2="244.31" stroke="#cc0033" stroke-width="1.45"/>
<rect x="867.43" y="214.09" width="6.70" height="29.12" fill="#cc0033"/>
<line x1="877.35" x2="877.35" y1="131.82" y2="207.36" stroke="#000000" stroke-width="1.45"/>
<rect x="874.80" y="152.08" width="5.10" height="46.49" fill="#fff" stroke="#000000" stroke-width="1.3"/>
<line x1="883.92" x2="883.92" y1="140.56" y2="200.99" stroke="#cc0033" stroke-width="1.45"/>
<rect x="880.57" y="143.11" width="6.70" height="41.50" fill="#cc0033"/>
<line x1="890.49" x2="890.49" y1="144.93" y2="192.80" stroke="#000000" stroke-width="1.45"/>
<rect x="887.94" y="157.54" width="5.10" height="29.20" fill="#fff" stroke="#000000" stroke-width="1.3"/>
<line x1="897.06" x2="897.06" y1="117.37" y2="159.60" stroke="#000000" stroke-width="1.45"/>
<rect x="894.51" y="127.43" width="5.10" height="25.37" fill="#fff" stroke="#000000" stroke-width="1.3"/>
<line x1="903.64" x2="903.64" y1="90.98" y2="129.20" stroke="#000000" stroke-width="1.45"/>
<rect x="901.09" y="101.22" width="5.10" height="27.38" fill="#fff" stroke="#000000" stroke-width="1.3"/>
<line x1="910.21" x2="910.21" y1="73.68" y2="118.28" stroke="#000000" stroke-width="1.45"/>
<rect x="907.66" y="77.01" width="5.10" height="21.19" fill="#fff" stroke="#000000" stroke-width="1.3"/>
<line x1="916.78" x2="916.78" y1="43.65" y2="82.78" stroke="#000000" stroke-width="1.45"/>
<rect x="914.23" y="65.55" width="5.10" height="9.36" fill="#fff" stroke="#000000" stroke-width="1.3"/>
<line x1="923.35" x2="923.35" y1="51.48" y2="83.69" stroke="#000000" stroke-width="1.45"/>
<rect x="920.00" y="52.75" width="6.70" height="12.20" fill="#000000"/>
<line x1="929.92" x2="929.92" y1="56.94" y2="94.62" stroke="#cc0033" stroke-width="1.45"/>
<rect x="926.57" y="59.12" width="6.70" height="26.94" fill="#cc0033"/>
<line x1="936.49" x2="936.49" y1="65.49" y2="95.53" stroke="#cc0033" stroke-width="1.45"/>
<rect x="933.14" y="86.79" width="6.70" height="3.28" fill="#cc0033"/>
<line x1="943.06" x2="943.06" y1="51.48" y2="94.07" stroke="#000000" stroke-width="1.45"/>
<rect x="940.51" y="65.18" width="5.10" height="25.19" fill="#fff" stroke="#000000" stroke-width="1.3"/>
<line x1="949.63" x2="949.63" y1="57.30" y2="70.95" stroke="#000000" stroke-width="1.45"/>
<rect x="946.28" y="63.04" width="6.70" height="2.00" fill="#000000"/>
</g>
<path d="M16.50 180.50 C23.00 179.22 46.57 174.83 55.50 172.80 C64.43 170.77 63.43 170.27 70.10 168.30 C76.77 166.33 87.32 163.03 95.50 161.00 C103.68 158.97 111.60 157.47 119.20 156.10 C126.80 154.73 133.47 153.32 141.10 152.80 C148.73 152.28 157.07 153.28 165.00 153.00 C172.93 152.72 180.82 152.12 188.70 151.10 C196.58 150.08 205.93 147.67 212.30 146.90 C218.67 146.13 221.43 146.27 226.90 146.50 C232.37 146.73 237.52 147.68 245.10 148.30 C252.68 148.92 264.52 149.53 272.40 150.20 C280.28 150.87 286.03 151.48 292.40 152.30 C298.77 153.12 303.50 153.97 310.60 155.10 C317.70 156.23 327.75 157.45 335.00 159.10 C342.25 160.75 346.97 163.57 354.10 165.00 C361.23 166.43 370.52 167.25 377.80 167.70 C385.08 168.15 390.22 167.23 397.80 167.70 C405.38 168.17 414.80 168.67 423.30 170.50 C431.80 172.33 440.92 176.58 448.80 178.70 C456.68 180.82 463.18 181.33 470.60 183.20 C478.02 185.07 487.32 187.50 493.30 189.90 C499.28 192.30 502.08 195.02 506.50 197.60 C510.92 200.18 515.73 202.73 519.80 205.40 C523.87 208.07 526.48 210.37 530.90 213.60 C535.32 216.83 541.52 221.57 546.30 224.80 C551.08 228.03 554.80 230.15 559.60 233.00 C564.40 235.85 570.32 238.58 575.10 241.90 C579.88 245.22 583.88 249.40 588.30 252.90 C592.72 256.40 597.53 260.13 601.60 262.90 C605.67 265.67 608.65 267.12 612.70 269.50 C616.75 271.88 621.48 274.37 625.90 277.20 C630.32 280.03 635.15 283.73 639.20 286.50 C643.25 289.27 646.15 291.28 650.20 293.80 C654.25 296.32 658.70 298.83 663.50 301.60 C668.30 304.37 674.58 307.83 679.00 310.40 C683.42 312.97 686.50 314.78 690.00 317.00 C693.50 319.22 697.25 322.03 700.00 323.70 C702.75 325.37 701.78 325.03 706.50 327.00 C711.22 328.97 721.02 333.00 728.30 335.50 C735.58 338.00 744.00 340.88 750.20 342.00 C756.40 343.12 757.48 342.67 765.50 342.20 C773.52 341.73 787.98 341.07 798.30 339.20 C808.62 337.33 818.60 334.33 827.40 331.00 C836.20 327.67 844.00 322.93 851.10 319.20 C858.20 315.47 861.52 313.47 870.00 308.60 C878.48 303.73 892.50 296.77 902.00 290.00 C911.50 283.23 919.07 274.63 927.00 268.00 C934.93 261.37 945.83 253.17 949.60 250.20" fill="none" stroke="#2d2da0" stroke-width="1.6"/>
<rect x="16.5" y="35.0" width="942.0" height="408.5" fill="none" stroke="#aaaaaa" stroke-width="1.2"/>
<rect x="17.2" y="35.8" width="297" height="15.4" fill="#fff"/>
<rect x="17.2" y="51" width="101.5" height="14.2" fill="#fff"/><rect x="17.2" y="65" width="107.8" height="14.2" fill="#fff"/><rect x="17.2" y="79" width="100" height="14" fill="#fff"/>
<g stroke="#000" fill="#000"><line x1="22.2" x2="22.2" y1="39.3" y2="48.2" stroke-width="1.3"/><rect x="20.6" y="41.6" width="3.2" height="4.6" stroke-width="0.8"/><line x1="28.8" x2="28.8" y1="39.8" y2="48" stroke-width="1.2"/><rect x="26.9" y="41.2" width="3.8" height="5.6" fill="#fff" stroke-width="1.3"/></g>
<text x="36.4" y="48.4" font-family="Liberation Sans, sans-serif" font-size="13" fill="#000" textLength="276" lengthAdjust="spacing">US Dollar - Cash Settle (Daily) 106.64</text>
<line x1="20" x2="31" y1="58.6" y2="58.6" stroke="#000099" stroke-width="2"/>
<text x="33.5" y="62.8" font-family="Liberation Sans, sans-serif" font-size="12" fill="#000099" textLength="84" lengthAdjust="spacingAndGlyphs">MA(50) 103.18</text>
<line x1="20" x2="31" y1="73" y2="73" stroke="#cc0033" stroke-width="2"/>
<text x="33.5" y="77.3" font-family="Liberation Sans, sans-serif" font-size="12" fill="#cc0033" textLength="90.5" lengthAdjust="spacingAndGlyphs">MA(200) 103.78</text>
<g fill="#444"><rect x="19.5" y="84" width="2" height="6"/><rect x="22" y="81" width="2" height="9"/><rect x="24.5" y="80" width="2" height="10"/><rect x="27" y="82" width="2" height="8"/><rect x="29.3" y="83" width="2" height="7"/></g>
<text x="33.5" y="90.5" font-family="Liberation Sans, sans-serif" font-size="12" fill="#444" textLength="82" lengthAdjust="spacingAndGlyphs">Volume undef</text>
<rect x="405.3" y="45.6" width="457.7" height="112.2" fill="#fff" stroke="#555" stroke-width="1"/>
<text x="408.8" y="66.40" font-family="Liberation Sans, sans-serif" font-size="18" font-weight="bold" fill="#111" textLength="439.0" lengthAdjust="spacing">USD is rising and its uptrend continues, yesterday</text>
<text x="408.8" y="87.50" font-family="Liberation Sans, sans-serif" font-size="18" font-weight="bold" fill="#111" textLength="365.6" lengthAdjust="spacing">driven by short-term yields as opposed to</text>
<text x="408.8" y="108.60" font-family="Liberation Sans, sans-serif" font-size="18" font-weight="bold" fill="#111" textLength="407.9" lengthAdjust="spacing">unchanged 10y yield. Rising yields aren't (thus</text>
<text x="408.8" y="129.70" font-family="Liberation Sans, sans-serif" font-size="18" font-weight="bold" fill="#111" textLength="424.1" lengthAdjust="spacing">far) breaking the S&amp;P 500 that's trying to put in a</text>
<text x="408.8" y="150.80" font-family="Liberation Sans, sans-serif" font-size="18" font-weight="bold" fill="#111" textLength="424.6" lengthAdjust="spacing">bottom and defend supports last couple of days.</text>
<line x1="23.12" x2="23.12" y1="443.5" y2="446.0" stroke="#bbb" stroke-width="1"/>
<line x1="23.12" x2="23.12" y1="459.6" y2="462.1" stroke="#bbb" stroke-width="1"/>
<line x1="29.69" x2="29.69" y1="443.5" y2="446.0" stroke="#bbb" stroke-width="1"/>
<line x1="29.69" x2="29.69" y1="459.6" y2="462.1" stroke="#bbb" stroke-width="1"/>
<line x1="36.26" x2="36.26" y1="443.5" y2="446.0" stroke="#bbb" stroke-width="1"/>
<line x1="36.26" x2="36.26" y1="459.6" y2="462.1" stroke="#bbb" stroke-width="1"/>
<line x1="42.84" x2="42.84" y1="443.5" y2="446.0" stroke="#bbb" stroke-width="1"/>
<line x1="42.84" x2="42.84" y1="459.6" y2="462.1" stroke="#bbb" stroke-width="1"/>
<line x1="49.41" x2="49.41" y1="443.5" y2="446.0" stroke="#bbb" stroke-width="1"/>
<line x1="49.41" x2="49.41" y1="459.6" y2="462.1" stroke="#bbb" stroke-width="1"/>
<line x1="55.98" x2="55.98" y1="443.5" y2="446.0" stroke="#bbb" stroke-width="1"/>
<line x1="55.98" x2="55.98" y1="459.6" y2="462.1" stroke="#bbb" stroke-width="1"/>
<line x1="62.55" x2="62.55" y1="443.5" y2="446.0" stroke="#bbb" stroke-width="1"/>
<line x1="62.55" x2="62.55" y1="459.6" y2="462.1" stroke="#bbb" stroke-width="1"/>
<line x1="69.12" x2="69.12" y1="443.5" y2="446.0" stroke="#bbb" stroke-width="1"/>
<line x1="69.12" x2="69.12" y1="459.6" y2="462.1" stroke="#bbb" stroke-width="1"/>
<line x1="75.69" x2="75.69" y1="443.5" y2="446.0" stroke="#bbb" stroke-width="1"/>
<line x1="75.69" x2="75.69" y1="459.6" y2="462.1" stroke="#bbb" stroke-width="1"/>
<line x1="82.26" x2="82.26" y1="443.5" y2="446.0" stroke="#bbb" stroke-width="1"/>
<line x1="82.26" x2="82.26" y1="459.6" y2="462.1" stroke="#bbb" stroke-width="1"/>
<line x1="88.83" x2="88.83" y1="443.5" y2="446.0" stroke="#bbb" stroke-width="1"/>
<line x1="88.83" x2="88.83" y1="459.6" y2="462.1" stroke="#bbb" stroke-width="1"/>
<line x1="95.40" x2="95.40" y1="443.5" y2="446.0" stroke="#bbb" stroke-width="1"/>
<line x1="95.40" x2="95.40" y1="459.6" y2="462.1" stroke="#bbb" stroke-width="1"/>
<line x1="101.97" x2="101.97" y1="443.5" y2="446.0" stroke="#bbb" stroke-width="1"/>
<line x1="101.97" x2="101.97" y1="459.6" y2="462.1" stroke="#bbb" stroke-width="1"/>
<line x1="108.55" x2="108.55" y1="443.5" y2="446.0" stroke="#bbb" stroke-width="1"/>
<line x1="108.55" x2="108.55" y1="459.6" y2="462.1" stroke="#bbb" stroke-width="1"/>
<line x1="115.12" x2="115.12" y1="443.5" y2="446.0" stroke="#bbb" stroke-width="1"/>
<line x1="115.12" x2="115.12" y1="459.6" y2="462.1" stroke="#bbb" stroke-width="1"/>
<line x1="121.69" x2="121.69" y1="443.5" y2="446.0" stroke="#bbb" stroke-width="1"/>
<line x1="121.69" x2="121.69" y1="459.6" y2="462.1" stroke="#bbb" stroke-width="1"/>
<line x1="128.26" x2="128.26" y1="443.5" y2="446.0" stroke="#bbb" stroke-width="1"/>
<line x1="128.26" x2="128.26" y1="459.6" y2="462.1" stroke="#bbb" stroke-width="1"/>
<line x1="134.83" x2="134.83" y1="443.5" y2="446.0" stroke="#bbb" stroke-width="1"/>
<line x1="134.83" x2="134.83" y1="459.6" y2="462.1" stroke="#bbb" stroke-width="1"/>
<line x1="141.40" x2="141.40" y1="443.5" y2="446.0" stroke="#bbb" stroke-width="1"/>
<line x1="141.40" x2="141.40" y1="459.6" y2="462.1" stroke="#bbb" stroke-width="1"/>
<line x1="147.97" x2="147.97" y1="443.5" y2="446.0" stroke="#bbb" stroke-width="1"/>
<line x1="147.97" x2="147.97" y1="459.6" y2="462.1" stroke="#bbb" stroke-width="1"/>
<line x1="154.54" x2="154.54" y1="443.5" y2="446.0" stroke="#bbb" stroke-width="1"/>
<line x1="154.54" x2="154.54" y1="459.6" y2="462.1" stroke="#bbb" stroke-width="1"/>
<line x1="161.11" x2="161.11" y1="443.5" y2="446.0" stroke="#bbb" stroke-width="1"/>
<line x1="161.11" x2="161.11" y1="459.6" y2="462.1" stroke="#bbb" stroke-width="1"/>
<line x1="167.68" x2="167.68" y1="443.5" y2="446.0" stroke="#bbb" stroke-width="1"/>
<line x1="167.68" x2="167.68" y1="459.6" y2="462.1" stroke="#bbb" stroke-width="1"/>
<line x1="174.25" x2="174.25" y1="443.5" y2="446.0" stroke="#bbb" stroke-width="1"/>
<line x1="174.25" x2="174.25" y1="459.6" y2="462.1" stroke="#bbb" stroke-width="1"/>
<line x1="180.83" x2="180.83" y1="443.5" y2="446.0" stroke="#bbb" stroke-width="1"/>
<line x1="180.83" x2="180.83" y1="459.6" y2="462.1" stroke="#bbb" stroke-width="1"/>
<line x1="187.40" x2="187.40" y1="443.5" y2="446.0" stroke="#bbb" stroke-width="1"/>
<line x1="187.40" x2="187.40" y1="459.6" y2="462.1" stroke="#bbb" stroke-width="1"/>
<line x1="193.97" x2="193.97" y1="443.5" y2="446.0" stroke="#bbb" stroke-width="1"/>
<line x1="193.97" x2="193.97" y1="459.6" y2="462.1" stroke="#bbb" stroke-width="1"/>
<line x1="200.54" x2="200.54" y1="443.5" y2="446.0" stroke="#bbb" stroke-width="1"/>
<line x1="200.54" x2="200.54" y1="459.6" y2="462.1" stroke="#bbb" stroke-width="1"/>
<line x1="207.11" x2="207.11" y1="443.5" y2="446.0" stroke="#bbb" stroke-width="1"/>
<line x1="207.11" x2="207.11" y1="459.6" y2="462.1" stroke="#bbb" stroke-width="1"/>
<line x1="213.68" x2="213.68" y1="443.5" y2="446.0" stroke="#bbb" stroke-width="1"/>
<line x1="213.68" x2="213.68" y1="459.6" y2="462.1" stroke="#bbb" stroke-width="1"/>
<line x1="220.25" x2="220.25" y1="443.5" y2="446.0" stroke="#bbb" stroke-width="1"/>
<line x1="220.25" x2="220.25" y1="459.6" y2="462.1" stroke="#bbb" stroke-width="1"/>
<line x1="226.82" x2="226.82" y1="443.5" y2="446.0" stroke="#bbb" stroke-width="1"/>
<line x1="226.82" x2="226.82" y1="459.6" y2="462.1" stroke="#bbb" stroke-width="1"/>
<line x1="233.39" x2="233.39" y1="443.5" y2="446.0" stroke="#bbb" stroke-width="1"/>
<line x1="233.39" x2="233.39" y1="459.6" y2="462.1" stroke="#bbb" stroke-width="1"/>
<line x1="239.97" x2="239.97" y1="443.5" y2="446.0" stroke="#bbb" stroke-width="1"/>
<line x1="239.97" x2="239.97" y1="459.6" y2="462.1" stroke="#bbb" stroke-width="1"/>
<line x1="246.54" x2="246.54" y1="443.5" y2="446.0" stroke="#bbb" stroke-width="1"/>
<line x1="246.54" x2="246.54" y1="459.6" y2="462.1" stroke="#bbb" stroke-width="1"/>
<line x1="253.11" x2="253.11" y1="443.5" y2="446.0" stroke="#bbb" stroke-width="1"/>
<line x1="253.11" x2="253.11" y1="459.6" y2="462.1" stroke="#bbb" stroke-width="1"/>
<line x1="259.68" x2="259.68" y1="443.5" y2="446.0" stroke="#bbb" stroke-width="1"/>
<line x1="259.68" x2="259.68" y1="459.6" y2="462.1" stroke="#bbb" stroke-width="1"/>
<line x1="266.25" x2="266.25" y1="443.5" y2="446.0" stroke="#bbb" stroke-width="1"/>
<line x1="266.25" x2="266.25" y1="459.6" y2="462.1" stroke="#bbb" stroke-width="1"/>
<line x1="272.82" x2="272.82" y1="443.5" y2="446.0" stroke="#bbb" stroke-width="1"/>
<line x1="272.82" x2="272.82" y1="459.6" y2="462.1" stroke="#bbb" stroke-width="1"/>
<line x1="279.39" x2="279.39" y1="443.5" y2="446.0" stroke="#bbb" stroke-width="1"/>
<line x1="279.39" x2="279.39" y1="459.6" y2="462.1" stroke="#bbb" stroke-width="1"/>
<line x1="285.96" x2="285.96" y1="443.5" y2="446.0" stroke="#bbb" stroke-width="1"/>
<line x1="285.96" x2="285.96" y1="459.6" y2="462.1" stroke="#bbb" stroke-width="1"/>
<line x1="292.53" x2="292.53" y1="443.5" y2="446.0" stroke="#bbb" stroke-width="1"/>
<line x1="292.53" x2="292.53" y1="459.6" y2="462.1" stroke="#bbb" stroke-width="1"/>
<line x1="299.10" x2="299.10" y1="443.5" y2="446.0" stroke="#bbb" stroke-width="1"/>
<line x1="299.10" x2="299.10" y1="459.6" y2="462.1" stroke="#bbb" stroke-width="1"/>
<line x1="305.68" x2="305.68" y1="443.5" y2="446.0" stroke="#bbb" stroke-width="1"/>
<line x1="305.68" x2="305.68" y1="459.6" y2="462.1" stroke="#bbb" stroke-width="1"/>
<line x1="312.25" x2="312.25" y1="443.5" y2="446.0" stroke="#bbb" stroke-width="1"/>
<line x1="312.25" x2="312.25" y1="459.6" y2="462.1" stroke="#bbb" stroke-width="1"/>
<line x1="318.82" x2="318.82" y1="443.5" y2="446.0" stroke="#bbb" stroke-width="1"/>
<line x1="318.82" x2="318.82" y1="459.6" y2="462.1" stroke="#bbb" stroke-width="1"/>
<line x1="325.39" x2="325.39" y1="443.5" y2="446.0" stroke="#bbb" stroke-width="1"/>
<line x1="325.39" x2="325.39" y1="459.6" y2="462.1" stroke="#bbb" stroke-width="1"/>
<line x1="331.96" x2="331.96" y1="443.5" y2="446.0" stroke="#bbb" stroke-width="1"/>
<line x1="331.96" x2="331.96" y1="459.6" y2="462.1" stroke="#bbb" stroke-width="1"/>
<line x1="338.53" x2="338.53" y1="443.5" y2="446.0" stroke="#bbb" stroke-width="1"/>
<line x1="338.53" x2="338.53" y1="459.6" y2="462.1" stroke="#bbb" stroke-width="1"/>
<line x1="345.10" x2="345.10" y1="443.5" y2="446.0" stroke="#bbb" stroke-width="1"/>
<line x1="345.10" x2="345.10" y1="459.6" y2="462.1" stroke="#bbb" stroke-width="1"/>
<line x1="351.67" x2="351.67" y1="443.5" y2="446.0" stroke="#bbb" stroke-width="1"/>
<line x1="351.67" x2="351.67" y1="459.6" y2="462.1" stroke="#bbb" stroke-width="1"/>
<line x1="358.24" x2="358.24" y1="443.5" y2="446.0" stroke="#bbb" stroke-width="1"/>
<line x1="358.24" x2="358.24" y1="459.6" y2="462.1" stroke="#bbb" stroke-width="1"/>
<line x1="364.81" x2="364.81" y1="443.5" y2="446.0" stroke="#bbb" stroke-width="1"/>
<line x1="364.81" x2="364.81" y1="459.6" y2="462.1" stroke="#bbb" stroke-width="1"/>
<line x1="371.38" x2="371.38" y1="443.5" y2="446.0" stroke="#bbb" stroke-width="1"/>
<line x1="371.38" x2="371.38" y1="459.6" y2="462.1" stroke="#bbb" stroke-width="1"/>
<line x1="377.96" x2="377.96" y1="443.5" y2="446.0" stroke="#bbb" stroke-width="1"/>
<line x1="377.96" x2="377.96" y1="459.6" y2="462.1" stroke="#bbb" stroke-width="1"/>
<line x1="384.53" x2="384.53" y1="443.5" y2="446.0" stroke="#bbb" stroke-width="1"/>
<line x1="384.53" x2="384.53" y1="459.6" y2="462.1" stroke="#bbb" stroke-width="1"/>
<line x1="391.10" x2="391.10" y1="443.5" y2="446.0" stroke="#bbb" stroke-width="1"/>
<line x1="391.10" x2="391.10" y1="459.6" y2="462.1" stroke="#bbb" stroke-width="1"/>
<line x1="397.67" x2="397.67" y1="443.5" y2="446.0" stroke="#bbb" stroke-width="1"/>
<line x1="397.67" x2="397.67" y1="459.6" y2="462.1" stroke="#bbb" stroke-width="1"/>
<line x1="404.24" x2="404.24" y1="443.5" y2="446.0" stroke="#bbb" stroke-width="1"/>
<line x1="404.24" x2="404.24" y1="459.6" y2="462.1" stroke="#bbb" stroke-width="1"/>
<line x1="410.81" x2="410.81" y1="443.5" y2="446.0" stroke="#bbb" stroke-width="1"/>
<line x1="410.81" x2="410.81" y1="459.6" y2="462.1" stroke="#bbb" stroke-width="1"/>
<line x1="417.38" x2="417.38" y1="443.5" y2="446.0" stroke="#bbb" stroke-width="1"/>
<line x1="417.38" x2="417.38" y1="459.6" y2="462.1" stroke="#bbb" stroke-width="1"/>
<line x1="423.95" x2="423.95" y1="443.5" y2="446.0" stroke="#bbb" stroke-width="1"/>
<line x1="423.95" x2="423.95" y1="459.6" y2="462.1" stroke="#bbb" stroke-width="1"/>
<line x1="430.52" x2="430.52" y1="443.5" y2="446.0" stroke="#bbb" stroke-width="1"/>
<line x1="430.52" x2="430.52" y1="459.6" y2="462.1" stroke="#bbb" stroke-width="1"/>
<line x1="437.10" x2="437.10" y1="443.5" y2="446.0" stroke="#bbb" stroke-width="1"/>
<line x1="437.10" x2="437.10" y1="459.6" y2="462.1" stroke="#bbb" stroke-width="1"/>
<line x1="443.67" x2="443.67" y1="443.5" y2="446.0" stroke="#bbb" stroke-width="1"/>
<line x1="443.67" x2="443.67" y1="459.6" y2="462.1" stroke="#bbb" stroke-width="1"/>
<line x1="450.24" x2="450.24" y1="443.5" y2="446.0" stroke="#bbb" stroke-width="1"/>
<line x1="450.24" x2="450.24" y1="459.6" y2="462.1" stroke="#bbb" stroke-width="1"/>
<line x1="456.81" x2="456.81" y1="443.5" y2="446.0" stroke="#bbb" stroke-width="1"/>
<line x1="456.81" x2="456.81" y1="459.6" y2="462.1" stroke="#bbb" stroke-width="1"/>
<line x1="463.38" x2="463.38" y1="443.5" y2="446.0" stroke="#bbb" stroke-width="1"/>
<line x1="463.38" x2="463.38" y1="459.6" y2="462.1" stroke="#bbb" stroke-width="1"/>
<line x1="469.95" x2="469.95" y1="443.5" y2="446.0" stroke="#bbb" stroke-width="1"/>
<line x1="469.95" x2="469.95" y1="459.6" y2="462.1" stroke="#bbb" stroke-width="1"/>
<line x1="476.52" x2="476.52" y1="443.5" y2="446.0" stroke="#bbb" stroke-width="1"/>
<line x1="476.52" x2="476.52" y1="459.6" y2="462.1" stroke="#bbb" stroke-width="1"/>
<line x1="483.09" x2="483.09" y1="443.5" y2="446.0" stroke="#bbb" stroke-width="1"/>
<line x1="483.09" x2="483.09" y1="459.6" y2="462.1" stroke="#bbb" stroke-width="1"/>
<line x1="489.66" x2="489.66" y1="443.5" y2="446.0" stroke="#bbb" stroke-width="1"/>
<line x1="489.66" x2="489.66" y1="459.6" y2="462.1" stroke="#bbb" stroke-width="1"/>
<line x1="496.23" x2="496.23" y1="443.5" y2="446.0" stroke="#bbb" stroke-width="1"/>
<line x1="496.23" x2="496.23" y1="459.6" y2="462.1" stroke="#bbb" stroke-width="1"/>
<line x1="502.80" x2="502.80" y1="443.5" y2="446.0" stroke="#bbb" stroke-width="1"/>
<line x1="502.80" x2="502.80" y1="459.6" y2="462.1" stroke="#bbb" stroke-width="1"/>
<line x1="509.38" x2="509.38" y1="443.5" y2="446.0" stroke="#bbb" stroke-width="1"/>
<line x1="509.38" x2="509.38" y1="459.6" y2="462.1" stroke="#bbb" stroke-width="1"/>
<line x1="515.95" x2="515.95" y1="443.5" y2="446.0" stroke="#bbb" stroke-width="1"/>
<line x1="515.95" x2="515.95" y1="459.6" y2="462.1" stroke="#bbb" stroke-width="1"/>
<line x1="522.52" x2="522.52" y1="443.5" y2="446.0" stroke="#bbb" stroke-width="1"/>
<line x1="522.52" x2="522.52" y1="459.6" y2="462.1" stroke="#bbb" stroke-width="1"/>
<line x1="529.09" x2="529.09" y1="443.5" y2="446.0" stroke="#bbb" stroke-width="1"/>
<line x1="529.09" x2="529.09" y1="459.6" y2="462.1" stroke="#bbb" stroke-width="1"/>
<line x1="535.66" x2="535.66" y1="443.5" y2="446.0" stroke="#bbb" stroke-width="1"/>
<line x1="535.66" x2="535.66" y1="459.6" y2="462.1" stroke="#bbb" stroke-width="1"/>
<line x1="542.23" x2="542.23" y1="443.5" y2="446.0" stroke="#bbb" stroke-width="1"/>
<line x1="542.23" x2="542.23" y1="459.6" y2="462.1" stroke="#bbb" stroke-width="1"/>
<line x1="548.80" x2="548.80" y1="443.5" y2="446.0" stroke="#bbb" stroke-width="1"/>
<line x1="548.80" x2="548.80" y1="459.6" y2="462.1" stroke="#bbb" stroke-width="1"/>
<line x1="555.37" x2="555.37" y1="443.5" y2="446.0" stroke="#bbb" stroke-width="1"/>
<line x1="555.37" x2="555.37" y1="459.6" y2="462.1" stroke="#bbb" stroke-width="1"/>
<line x1="561.94" x2="561.94" y1="443.5" y2="446.0" stroke="#bbb" stroke-width="1"/>
<line x1="561.94" x2="561.94" y1="459.6" y2="462.1" stroke="#bbb" stroke-width="1"/>
<line x1="568.51" x2="568.51" y1="443.5" y2="446.0" stroke="#bbb" stroke-width="1"/>
<line x1="568.51" x2="568.51" y1="459.6" y2="462.1" stroke="#bbb" stroke-width="1"/>
<line x1="575.09" x2="575.09" y1="443.5" y2="446.0" stroke="#bbb" stroke-width="1"/>
<line x1="575.09" x2="575.09" y1="459.6" y2="462.1" stroke="#bbb" stroke-width="1"/>
<line x1="581.66" x2="581.66" y1="443.5" y2="446.0" stroke="#bbb" stroke-width="1"/>
<line x1="581.66" x2="581.66" y1="459.6" y2="462.1" stroke="#bbb" stroke-width="1"/>
<line x1="588.23" x2="588.23" y1="443.5" y2="446.0" stroke="#bbb" stroke-width="1"/>
<line x1="588.23" x2="588.23" y1="459.6" y2="462.1" stroke="#bbb" stroke-width="1"/>
<line x1="594.80" x2="594.80" y1="443.5" y2="446.0" stroke="#bbb" stroke-width="1"/>
<line x1="594.80" x2="594.80" y1="459.6" y2="462.1" stroke="#bbb" stroke-width="1"/>
<line x1="601.37" x2="601.37" y1="443.5" y2="446.0" stroke="#bbb" stroke-width="1"/>
<line x1="601.37" x2="601.37" y1="459.6" y2="462.1" stroke="#bbb" stroke-width="1"/>
<line x1="607.94" x2="607.94" y1="443.5" y2="446.0" stroke="#bbb" stroke-width="1"/>
<line x1="607.94" x2="607.94" y1="459.6" y2="462.1" stroke="#bbb" stroke-width="1"/>
<line x1="614.51" x2="614.51" y1="443.5" y2="446.0" stroke="#bbb" stroke-width="1"/>
<line x1="614.51" x2="614.51" y1="459.6" y2="462.1" stroke="#bbb" stroke-width="1"/>
<line x1="621.08" x2="621.08" y1="443.5" y2="446.0" stroke="#bbb" stroke-width="1"/>
<line x1="621.08" x2="621.08" y1="459.6" y2="462.1" stroke="#bbb" stroke-width="1"/>
<line x1="627.65" x2="627.65" y1="443.5" y2="446.0" stroke="#bbb" stroke-width="1"/>
<line x1="627.65" x2="627.65" y1="459.6" y2="462.1" stroke="#bbb" stroke-width="1"/>
<line x1="634.23" x2="634.23" y1="443.5" y2="446.0" stroke="#bbb" stroke-width="1"/>
<line x1="634.23" x2="634.23" y1="459.6" y2="462.1" stroke="#bbb" stroke-width="1"/>
<line x1="640.80" x2="640.80" y1="443.5" y2="446.0" stroke="#bbb" stroke-width="1"/>
<line x1="640.80" x2="640.80" y1="459.6" y2="462.1" stroke="#bbb" stroke-width="1"/>
<line x1="647.37" x2="647.37" y1="443.5" y2="446.0" stroke="#bbb" stroke-width="1"/>
<line x1="647.37" x2="647.37" y1="459.6" y2="462.1" stroke="#bbb" stroke-width="1"/>
<line x1="653.94" x2="653.94" y1="443.5" y2="446.0" stroke="#bbb" stroke-width="1"/>
<line x1="653.94" x2="653.94" y1="459.6" y2="462.1" stroke="#bbb" stroke-width="1"/>
<line x1="660.51" x2="660.51" y1="443.5" y2="446.0" stroke="#bbb" stroke-width="1"/>
<line x1="660.51" x2="660.51" y1="459.6" y2="462.1" stroke="#bbb" stroke-width="1"/>
<line x1="667.08" x2="667.08" y1="443.5" y2="446.0" stroke="#bbb" stroke-width="1"/>
<line x1="667.08" x2="667.08" y1="459.6" y2="462.1" stroke="#bbb" stroke-width="1"/>
<line x1="673.65" x2="673.65" y1="443.5" y2="446.0" stroke="#bbb" stroke-width="1"/>
<line x1="673.65" x2="673.65" y1="459.6" y2="462.1" stroke="#bbb" stroke-width="1"/>
<line x1="680.22" x2="680.22" y1="443.5" y2="446.0" stroke="#bbb" stroke-width="1"/>
<line x1="680.22" x2="680.22" y1="459.6" y2="462.1" stroke="#bbb" stroke-width="1"/>
<line x1="686.79" x2="686.79" y1="443.5" y2="446.0" stroke="#bbb" stroke-width="1"/>
<line x1="686.79" x2="686.79" y1="459.6" y2="462.1" stroke="#bbb" stroke-width="1"/>
<line x1="693.36" x2="693.36" y1="443.5" y2="446.0" stroke="#bbb" stroke-width="1"/>
<line x1="693.36" x2="693.36" y1="459.6" y2="462.1" stroke="#bbb" stroke-width="1"/>
<line x1="699.93" x2="699.93" y1="443.5" y2="446.0" stroke="#bbb" stroke-width="1"/>
<line x1="699.93" x2="699.93" y1="459.6" y2="462.1" stroke="#bbb" stroke-width="1"/>
<line x1="706.51" x2="706.51" y1="443.5" y2="446.0" stroke="#bbb" stroke-width="1"/>
<line x1="706.51" x2="706.51" y1="459.6" y2="462.1" stroke="#bbb" stroke-width="1"/>
<line x1="713.08" x2="713.08" y1="443.5" y2="446.0" stroke="#bbb" stroke-width="1"/>
<line x1="713.08" x2="713.08" y1="459.6" y2="462.1" stroke="#bbb" stroke-width="1"/>
<line x1="719.65" x2="719.65" y1="443.5" y2="446.0" stroke="#bbb" stroke-width="1"/>
<line x1="719.65" x2="719.65" y1="459.6" y2="462.1" stroke="#bbb" stroke-width="1"/>
<line x1="726.22" x2="726.22" y1="443.5" y2="446.0" stroke="#bbb" stroke-width="1"/>
<line x1="726.22" x2="726.22" y1="459.6" y2="462.1" stroke="#bbb" stroke-width="1"/>
<line x1="732.79" x2="732.79" y1="443.5" y2="446.0" stroke="#bbb" stroke-width="1"/>
<line x1="732.79" x2="732.79" y1="459.6" y2="462.1" stroke="#bbb" stroke-width="1"/>
<line x1="739.36" x2="739.36" y1="443.5" y2="446.0" stroke="#bbb" stroke-width="1"/>
<line x1="739.36" x2="739.36" y1="459.6" y2="462.1" stroke="#bbb" stroke-width="1"/>
<line x1="745.93" x2="745.93" y1="443.5" y2="446.0" stroke="#bbb" stroke-width="1"/>
<line x1="745.93" x2="745.93" y1="459.6" y2="462.1" stroke="#bbb" stroke-width="1"/>
<line x1="752.50" x2="752.50" y1="443.5" y2="446.0" stroke="#bbb" stroke-width="1"/>
<line x1="752.50" x2="752.50" y1="459.6" y2="462.1" stroke="#bbb" stroke-width="1"/>
<line x1="759.07" x2="759.07" y1="443.5" y2="446.0" stroke="#bbb" stroke-width="1"/>
<line x1="759.07" x2="759.07" y1="459.6" y2="462.1" stroke="#bbb" stroke-width="1"/>
<line x1="765.64" x2="765.64" y1="443.5" y2="446.0" stroke="#bbb" stroke-width="1"/>
<line x1="765.64" x2="765.64" y1="459.6" y2="462.1" stroke="#bbb" stroke-width="1"/>
<line x1="772.22" x2="772.22" y1="443.5" y2="446.0" stroke="#bbb" stroke-width="1"/>
<line x1="772.22" x2="772.22" y1="459.6" y2="462.1" stroke="#bbb" stroke-width="1"/>
<line x1="778.79" x2="778.79" y1="443.5" y2="446.0" stroke="#bbb" stroke-width="1"/>
<line x1="778.79" x2="778.79" y1="459.6" y2="462.1" stroke="#bbb" stroke-width="1"/>
<line x1="785.36" x2="785.36" y1="443.5" y2="446.0" stroke="#bbb" stroke-width="1"/>
<line x1="785.36" x2="785.36" y1="459.6" y2="462.1" stroke="#bbb" stroke-width="1"/>
<line x1="791.93" x2="791.93" y1="443.5" y2="446.0" stroke="#bbb" stroke-width="1"/>
<line x1="791.93" x2="791.93" y1="459.6" y2="462.1" stroke="#bbb" stroke-width="1"/>
<line x1="798.50" x2="798.50" y1="443.5" y2="446.0" stroke="#bbb" stroke-width="1"/>
<line x1="798.50" x2="798.50" y1="459.6" y2="462.1" stroke="#bbb" stroke-width="1"/>
<line x1="805.07" x2="805.07" y1="443.5" y2="446.0" stroke="#bbb" stroke-width="1"/>
<line x1="805.07" x2="805.07" y1="459.6" y2="462.1" stroke="#bbb" stroke-width="1"/>
<line x1="811.64" x2="811.64" y1="443.5" y2="446.0" stroke="#bbb" stroke-width="1"/>
<line x1="811.64" x2="811.64" y1="459.6" y2="462.1" stroke="#bbb" stroke-width="1"/>
<line x1="818.21" x2="818.21" y1="443.5" y2="446.0" stroke="#bbb" stroke-width="1"/>
<line x1="818.21" x2="818.21" y1="459.6" y2="462.1" stroke="#bbb" stroke-width="1"/>
<line x1="824.78" x2="824.78" y1="443.5" y2="446.0" stroke="#bbb" stroke-width="1"/>
<line x1="824.78" x2="824.78" y1="459.6" y2="462.1" stroke="#bbb" stroke-width="1"/>
<line x1="831.35" x2="831.35" y1="443.5" y2="446.0" stroke="#bbb" stroke-width="1"/>
<line x1="831.35" x2="831.35" y1="459.6" y2="462.1" stroke="#bbb" stroke-width="1"/>
<line x1="837.93" x2="837.93" y1="443.5" y2="446.0" stroke="#bbb" stroke-width="1"/>
<line x1="837.93" x2="837.93" y1="459.6" y2="462.1" stroke="#bbb" stroke-width="1"/>
<line x1="844.50" x2="844.50" y1="443.5" y2="446.0" stroke="#bbb" stroke-width="1"/>
<line x1="844.50" x2="844.50" y1="459.6" y2="462.1" stroke="#bbb" stroke-width="1"/>
<line x1="851.07" x2="851.07" y1="443.5" y2="446.0" stroke="#bbb" stroke-width="1"/>
<line x1="851.07" x2="851.07" y1="459.6" y2="462.1" stroke="#bbb" stroke-width="1"/>
<line x1="857.64" x2="857.64" y1="443.5" y2="446.0" stroke="#bbb" stroke-width="1"/>
<line x1="857.64" x2="857.64" y1="459.6" y2="462.1" stroke="#bbb" stroke-width="1"/>
<line x1="864.21" x2="864.21" y1="443.5" y2="446.0" stroke="#bbb" stroke-width="1"/>
<line x1="864.21" x2="864.21" y1="459.6" y2="462.1" stroke="#bbb" stroke-width="1"/>
<line x1="870.78" x2="870.78" y1="443.5" y2="446.0" stroke="#bbb" stroke-width="1"/>
<line x1="870.78" x2="870.78" y1="459.6" y2="462.1" stroke="#bbb" stroke-width="1"/>
<line x1="877.35" x2="877.35" y1="443.5" y2="446.0" stroke="#bbb" stroke-width="1"/>
<line x1="877.35" x2="877.35" y1="459.6" y2="462.1" stroke="#bbb" stroke-width="1"/>
<line x1="883.92" x2="883.92" y1="443.5" y2="446.0" stroke="#bbb" stroke-width="1"/>
<line x1="883.92" x2="883.92" y1="459.6" y2="462.1" stroke="#bbb" stroke-width="1"/>
<line x1="890.49" x2="890.49" y1="443.5" y2="446.0" stroke="#bbb" stroke-width="1"/>
<line x1="890.49" x2="890.49" y1="459.6" y2="462.1" stroke="#bbb" stroke-width="1"/>
<line x1="897.06" x2="897.06" y1="443.5" y2="446.0" stroke="#bbb" stroke-width="1"/>
<line x1="897.06" x2="897.06" y1="459.6" y2="462.1" stroke="#bbb" stroke-width="1"/>
<line x1="903.64" x2="903.64" y1="443.5" y2="446.0" stroke="#bbb" stroke-width="1"/>
<line x1="903.64" x2="903.64" y1="459.6" y2="462.1" stroke="#bbb" stroke-width="1"/>
<line x1="910.21" x2="910.21" y1="443.5" y2="446.0" stroke="#bbb" stroke-width="1"/>
<line x1="910.21" x2="910.21" y1="459.6" y2="462.1" stroke="#bbb" stroke-width="1"/>
<line x1="916.78" x2="916.78" y1="443.5" y2="446.0" stroke="#bbb" stroke-width="1"/>
<line x1="916.78" x2="916.78" y1="459.6" y2="462.1" stroke="#bbb" stroke-width="1"/>
<line x1="923.35" x2="923.35" y1="443.5" y2="446.0" stroke="#bbb" stroke-width="1"/>
<line x1="923.35" x2="923.35" y1="459.6" y2="462.1" stroke="#bbb" stroke-width="1"/>
<line x1="929.92" x2="929.92" y1="443.5" y2="446.0" stroke="#bbb" stroke-width="1"/>
<line x1="929.92" x2="929.92" y1="459.6" y2="462.1" stroke="#bbb" stroke-width="1"/>
<line x1="936.49" x2="936.49" y1="443.5" y2="446.0" stroke="#bbb" stroke-width="1"/>
<line x1="936.49" x2="936.49" y1="459.6" y2="462.1" stroke="#bbb" stroke-width="1"/>
<line x1="943.06" x2="943.06" y1="443.5" y2="446.0" stroke="#bbb" stroke-width="1"/>
<line x1="943.06" x2="943.06" y1="459.6" y2="462.1" stroke="#bbb" stroke-width="1"/>
<line x1="949.63" x2="949.63" y1="443.5" y2="446.0" stroke="#bbb" stroke-width="1"/>
<line x1="949.63" x2="949.63" y1="459.6" y2="462.1" stroke="#bbb" stroke-width="1"/>
<text x="42.34" y="457.3" font-family="Liberation Sans, sans-serif" font-size="12.5" fill="#000" text-anchor="middle">13</text>
<text x="75.19" y="457.3" font-family="Liberation Sans, sans-serif" font-size="12.5" fill="#000" text-anchor="middle">20</text>
<text x="108.05" y="457.3" font-family="Liberation Sans, sans-serif" font-size="12.5" fill="#000" text-anchor="middle">27</text>
<text x="142.00" y="457.3" font-family="Liberation Sans, sans-serif" font-size="14.6" font-weight="bold" fill="#000" text-anchor="middle">Jun</text>
<text x="173.75" y="457.3" font-family="Liberation Sans, sans-serif" font-size="12.5" fill="#000" text-anchor="middle">10</text>
<text x="206.61" y="457.3" font-family="Liberation Sans, sans-serif" font-size="12.5" fill="#000" text-anchor="middle">17</text>
<text x="239.47" y="457.3" font-family="Liberation Sans, sans-serif" font-size="12.5" fill="#000" text-anchor="middle">24</text>
<text x="273.42" y="457.3" font-family="Liberation Sans, sans-serif" font-size="14.6" font-weight="bold" fill="#000" text-anchor="middle">Jul</text>
<text x="305.18" y="457.3" font-family="Liberation Sans, sans-serif" font-size="12.5" fill="#000" text-anchor="middle">8</text>
<text x="338.03" y="457.3" font-family="Liberation Sans, sans-serif" font-size="12.5" fill="#000" text-anchor="middle">15</text>
<text x="370.88" y="457.3" font-family="Liberation Sans, sans-serif" font-size="12.5" fill="#000" text-anchor="middle">22</text>
<text x="403.74" y="457.3" font-family="Liberation Sans, sans-serif" font-size="12.5" fill="#000" text-anchor="middle">29</text>
<text x="424.55" y="457.3" font-family="Liberation Sans, sans-serif" font-size="14.6" font-weight="bold" fill="#000" text-anchor="middle">Aug</text>
<text x="469.45" y="457.3" font-family="Liberation Sans, sans-serif" font-size="12.5" fill="#000" text-anchor="middle">12</text>
<text x="502.30" y="457.3" font-family="Liberation Sans, sans-serif" font-size="12.5" fill="#000" text-anchor="middle">19</text>
<text x="535.16" y="457.3" font-family="Liberation Sans, sans-serif" font-size="12.5" fill="#000" text-anchor="middle">26</text>
<text x="569.12" y="457.3" font-family="Liberation Sans, sans-serif" font-size="14.6" font-weight="bold" fill="#000" text-anchor="middle">Sep</text>
<text x="600.87" y="457.3" font-family="Liberation Sans, sans-serif" font-size="12.5" fill="#000" text-anchor="middle">9</text>
<text x="633.73" y="457.3" font-family="Liberation Sans, sans-serif" font-size="12.5" fill="#000" text-anchor="middle">16</text>
<text x="666.58" y="457.3" font-family="Liberation Sans, sans-serif" font-size="12.5" fill="#000" text-anchor="middle">23</text>
<text x="707.11" y="457.3" font-family="Liberation Sans, sans-serif" font-size="14.6" font-weight="bold" fill="#000" text-anchor="middle">Oct</text>
<text x="732.29" y="457.3" font-family="Liberation Sans, sans-serif" font-size="12.5" fill="#000" text-anchor="middle">7</text>
<text x="765.14" y="457.3" font-family="Liberation Sans, sans-serif" font-size="12.5" fill="#000" text-anchor="middle">14</text>
<text x="798.00" y="457.3" font-family="Liberation Sans, sans-serif" font-size="12.5" fill="#000" text-anchor="middle">21</text>
<text x="830.85" y="457.3" font-family="Liberation Sans, sans-serif" font-size="12.5" fill="#000" text-anchor="middle">28</text>
<text x="858.24" y="457.3" font-family="Liberation Sans, sans-serif" font-size="14.6" font-weight="bold" fill="#000" text-anchor="middle">Nov</text>
<text x="896.56" y="457.3" font-family="Liberation Sans, sans-serif" font-size="12.5" fill="#000" text-anchor="middle">11</text>
<text x="929.42" y="457.3" font-family="Liberation Sans, sans-serif" font-size="12.5" fill="#000" text-anchor="middle">18</text>
<line x1="23.12" x2="23.12" y1="748.3" y2="750.8" stroke="#bbb" stroke-width="1"/>
<line x1="29.69" x2="29.69" y1="748.3" y2="750.8" stroke="#bbb" stroke-width="1"/>
<line x1="36.26" x2="36.26" y1="748.3" y2="750.8" stroke="#bbb" stroke-width="1"/>
<line x1="42.84" x2="42.84" y1="748.3" y2="750.8" stroke="#bbb" stroke-width="1"/>
<line x1="49.41" x2="49.41" y1="748.3" y2="750.8" stroke="#bbb" stroke-width="1"/>
<line x1="55.98" x2="55.98" y1="748.3" y2="750.8" stroke="#bbb" stroke-width="1"/>
<line x1="62.55" x2="62.55" y1="748.3" y2="750.8" stroke="#bbb" stroke-width="1"/>
<line x1="69.12" x2="69.12" y1="748.3" y2="750.8" stroke="#bbb" stroke-width="1"/>
<line x1="75.69" x2="75.69" y1="748.3" y2="750.8" stroke="#bbb" stroke-width="1"/>
<line x1="82.26" x2="82.26" y1="748.3" y2="750.8" stroke="#bbb" stroke-width="1"/>
<line x1="88.83" x2="88.83" y1="748.3" y2="750.8" stroke="#bbb" stroke-width="1"/>
<line x1="95.40" x2="95.40" y1="748.3" y2="750.8" stroke="#bbb" stroke-width="1"/>
<line x1="101.97" x2="101.97" y1="748.3" y2="750.8" stroke="#bbb" stroke-width="1"/>
<line x1="108.55" x2="108.55" y1="748.3" y2="750.8" stroke="#bbb" stroke-width="1"/>
<line x1="115.12" x2="115.12" y1="748.3" y2="750.8" stroke="#bbb" stroke-width="1"/>
<line x1="121.69" x2="121.69" y1="748.3" y2="750.8" stroke="#bbb" stroke-width="1"/>
<line x1="128.26" x2="128.26" y1="748.3" y2="750.8" stroke="#bbb" stroke-width="1"/>
<line x1="134.83" x2="134.83" y1="748.3" y2="750.8" stroke="#bbb" stroke-width="1"/>
<line x1="141.40" x2="141.40" y1="748.3" y2="750.8" stroke="#bbb" stroke-width="1"/>
<line x1="147.97" x2="147.97" y1="748.3" y2="750.8" stroke="#bbb" stroke-width="1"/>
<line x1="154.54" x2="154.54" y1="748.3" y2="750.8" stroke="#bbb" stroke-width="1"/>
<line x1="161.11" x2="161.11" y1="748.3" y2="750.8" stroke="#bbb" stroke-width="1"/>
<line x1="167.68" x2="167.68" y1="748.3" y2="750.8" stroke="#bbb" stroke-width="1"/>
<line x1="174.25" x2="174.25" y1="748.3" y2="750.8" stroke="#bbb" stroke-width="1"/>
<line x1="180.83" x2="180.83" y1="748.3" y2="750.8" stroke="#bbb" stroke-width="1"/>
<line x1="187.40" x2="187.40" y1="748.3" y2="750.8" stroke="#bbb" stroke-width="1"/>
<line x1="193.97" x2="193.97" y1="748.3" y2="750.8" stroke="#bbb" stroke-width="1"/>
<line x1="200.54" x2="200.54" y1="748.3" y2="750.8" stroke="#bbb" stroke-width="1"/>
<line x1="207.11" x2="207.11" y1="748.3" y2="750.8" stroke="#bbb" stroke-width="1"/>
<line x1="213.68" x2="213.68" y1="748.3" y2="750.8" stroke="#bbb" stroke-width="1"/>
<line x1="220.25" x2="220.25" y1="748.3" y2="750.8" stroke="#bbb" stroke-width="1"/>
<line x1="226.82" x2="226.82" y1="748.3" y2="750.8" stroke="#bbb" stroke-width="1"/>
<line x1="233.39" x2="233.39" y1="748.3" y2="750.8" stroke="#bbb" stroke-width="1"/>
<line x1="239.97" x2="239.97" y1="748.3" y2="750.8" stroke="#bbb" stroke-width="1"/>
<line x1="246.54" x2="246.54" y1="748.3" y2="750.8" stroke="#bbb" stroke-width="1"/>
<line x1="253.11" x2="253.11" y1="748.3" y2="750.8" stroke="#bbb" stroke-width="1"/>
<line x1="259.68" x2="259.68" y1="748.3" y2="750.8" stroke="#bbb" stroke-width="1"/>
<line x1="266.25" x2="266.25" y1="748.3" y2="750.8" stroke="#bbb" stroke-width="1"/>
<line x1="272.82" x2="272.82" y1="748.3" y2="750.8" stroke="#bbb" stroke-width="1"/>
<line x1="279.39" x2="279.39" y1="748.3" y2="750.8" stroke="#bbb" stroke-width="1"/>
<line x1="285.96" x2="285.96" y1="748.3" y2="750.8" stroke="#bbb" stroke-width="1"/>
<line x1="292.53" x2="292.53" y1="748.3" y2="750.8" stroke="#bbb" stroke-width="1"/>
<line x1="299.10" x2="299.10" y1="748.3" y2="750.8" stroke="#bbb" stroke-width="1"/>
<line x1="305.68" x2="305.68" y1="748.3" y2="750.8" stroke="#bbb" stroke-width="1"/>
<line x1="312.25" x2="312.25" y1="748.3" y2="750.8" stroke="#bbb" stroke-width="1"/>
<line x1="318.82" x2="318.82" y1="748.3" y2="750.8" stroke="#bbb" stroke-width="1"/>
<line x1="325.39" x2="325.39" y1="748.3" y2="750.8" stroke="#bbb" stroke-width="1"/>
<line x1="331.96" x2="331.96" y1="748.3" y2="750.8" stroke="#bbb" stroke-width="1"/>
<line x1="338.53" x2="338.53" y1="748.3" y2="750.8" stroke="#bbb" stroke-width="1"/>
<line x1="345.10" x2="345.10" y1="748.3" y2="750.8" stroke="#bbb" stroke-width="1"/>
<line x1="351.67" x2="351.67" y1="748.3" y2="750.8" stroke="#bbb" stroke-width="1"/>
<line x1="358.24" x2="358.24" y1="748.3" y2="750.8" stroke="#bbb" stroke-width="1"/>
<line x1="364.81" x2="364.81" y1="748.3" y2="750.8" stroke="#bbb" stroke-width="1"/>
<line x1="371.38" x2="371.38" y1="748.3" y2="750.8" stroke="#bbb" stroke-width="1"/>
<line x1="377.96" x2="377.96" y1="748.3" y2="750.8" stroke="#bbb" stroke-width="1"/>
<line x1="384.53" x2="384.53" y1="748.3" y2="750.8" stroke="#bbb" stroke-width="1"/>
<line x1="391.10" x2="391.10" y1="748.3" y2="750.8" stroke="#bbb" stroke-width="1"/>
<line x1="397.67" x2="397.67" y1="748.3" y2="750.8" stroke="#bbb" stroke-width="1"/>
<line x1="404.24" x2="404.24" y1="748.3" y2="750.8" stroke="#bbb" stroke-width="1"/>
<line x1="410.81" x2="410.81" y1="748.3" y2="750.8" stroke="#bbb" stroke-width="1"/>
<line x1="417.38" x2="417.38" y1="748.3" y2="750.8" stroke="#bbb" stroke-width="1"/>
<line x1="423.95" x2="423.95" y1="748.3" y2="750.8" stroke="#bbb" stroke-width="1"/>
<line x1="430.52" x2="430.52" y1="748.3" y2="750.8" stroke="#bbb" stroke-width="1"/>
<line x1="437.10" x2="437.10" y1="748.3" y2="750.8" stroke="#bbb" stroke-width="1"/>
<line x1="443.67" x2="443.67" y1="748.3" y2="750.8" stroke="#bbb" stroke-width="1"/>
<line x1="450.24" x2="450.24" y1="748.3" y2="750.8" stroke="#bbb" stroke-width="1"/>
<line x1="456.81" x2="456.81" y1="748.3" y2="750.8" stroke="#bbb" stroke-width="1"/>
<line x1="463.38" x2="463.38" y1="748.3" y2="750.8" stroke="#bbb" stroke-width="1"/>
<line x1="469.95" x2="469.95" y1="748.3" y2="750.8" stroke="#bbb" stroke-width="1"/>
<line x1="476.52" x2="476.52" y1="748.3" y2="750.8" stroke="#bbb" stroke-width="1"/>
<line x1="483.09" x2="483.09" y1="748.3" y2="750.8" stroke="#bbb" stroke-width="1"/>
<line x1="489.66" x2="489.66" y1="748.3" y2="750.8" stroke="#bbb" stroke-width="1"/>
<line x1="496.23" x2="496.23" y1="748.3" y2="750.8" stroke="#bbb" stroke-width="1"/>
<line x1="502.80" x2="502.80" y1="748.3" y2="750.8" stroke="#bbb" stroke-width="1"/>
<line x1="509.38" x2="509.38" y1="748.3" y2="750.8" stroke="#bbb" stroke-width="1"/>
<line x1="515.95" x2="515.95" y1="748.3" y2="750.8" stroke="#bbb" stroke-width="1"/>
<line x1="522.52" x2="522.52" y1="748.3" y2="750.8" stroke="#bbb" stroke-width="1"/>
<line x1="529.09" x2="529.09" y1="748.3" y2="750.8" stroke="#bbb" stroke-width="1"/>
<line x1="535.66" x2="535.66" y1="748.3" y2="750.8" stroke="#bbb" stroke-width="1"/>
<line x1="542.23" x2="542.23" y1="748.3" y2="750.8" stroke="#bbb" stroke-width="1"/>
<line x1="548.80" x2="548.80" y1="748.3" y2="750.8" stroke="#bbb" stroke-width="1"/>
<line x1="555.37" x2="555.37" y1="748.3" y2="750.8" stroke="#bbb" stroke-width="1"/>
<line x1="561.94" x2="561.94" y1="748.3" y2="750.8" stroke="#bbb" stroke-width="1"/>
<line x1="568.51" x2="568.51" y1="748.3" y2="750.8" stroke="#bbb" stroke-width="1"/>
<line x1="575.09" x2="575.09" y1="748.3" y2="750.8" stroke="#bbb" stroke-width="1"/>
<line x1="581.66" x2="581.66" y1="748.3" y2="750.8" stroke="#bbb" stroke-width="1"/>
<line x1="588.23" x2="588.23" y1="748.3" y2="750.8" stroke="#bbb" stroke-width="1"/>
<line x1="594.80" x2="594.80" y1="748.3" y2="750.8" stroke="#bbb" stroke-width="1"/>
<line x1="601.37" x2="601.37" y1="748.3" y2="750.8" stroke="#bbb" stroke-width="1"/>
<line x1="607.94" x2="607.94" y1="748.3" y2="750.8" stroke="#bbb" stroke-width="1"/>
<line x1="614.51" x2="614.51" y1="748.3" y2="750.8" stroke="#bbb" stroke-width="1"/>
<line x1="621.08" x2="621.08" y1="748.3" y2="750.8" stroke="#bbb" stroke-width="1"/>
<line x1="627.65" x2="627.65" y1="748.3" y2="750.8" stroke="#bbb" stroke-width="1"/>
<line x1="634.23" x2="634.23" y1="748.3" y2="750.8" stroke="#bbb" stroke-width="1"/>
<line x1="640.80" x2="640.80" y1="748.3" y2="750.8" stroke="#bbb" stroke-width="1"/>
<line x1="647.37" x2="647.37" y1="748.3" y2="750.8" stroke="#bbb" stroke-width="1"/>
<line x1="653.94" x2="653.94" y1="748.3" y2="750.8" stroke="#bbb" stroke-width="1"/>
<line x1="660.51" x2="660.51" y1="748.3" y2="750.8" stroke="#bbb" stroke-width="1"/>
<line x1="667.08" x2="667.08" y1="748.3" y2="750.8" stroke="#bbb" stroke-width="1"/>
<line x1="673.65" x2="673.65" y1="748.3" y2="750.8" stroke="#bbb" stroke-width="1"/>
<line x1="680.22" x2="680.22" y1="748.3" y2="750.8" stroke="#bbb" stroke-width="1"/>
<line x1="686.79" x2="686.79" y1="748.3" y2="750.8" stroke="#bbb" stroke-width="1"/>
<line x1="693.36" x2="693.36" y1="748.3" y2="750.8" stroke="#bbb" stroke-width="1"/>
<line x1="699.93" x2="699.93" y1="748.3" y2="750.8" stroke="#bbb" stroke-width="1"/>
<line x1="706.51" x2="706.51" y1="748.3" y2="750.8" stroke="#bbb" stroke-width="1"/>
<line x1="713.08" x2="713.08" y1="748.3" y2="750.8" stroke="#bbb" stroke-width="1"/>
<line x1="719.65" x2="719.65" y1="748.3" y2="750.8" stroke="#bbb" stroke-width="1"/>
<line x1="726.22" x2="726.22" y1="748.3" y2="750.8" stroke="#bbb" stroke-width="1"/>
<line x1="732.79" x2="732.79" y1="748.3" y2="750.8" stroke="#bbb" stroke-width="1"/>
<line x1="739.36" x2="739.36" y1="748.3" y2="750.8" stroke="#bbb" stroke-width="1"/>
<line x1="745.93" x2="745.93" y1="748.3" y2="750.8" stroke="#bbb" stroke-width="1"/>
<line x1="752.50" x2="752.50" y1="748.3" y2="750.8" stroke="#bbb" stroke-width="1"/>
<line x1="759.07" x2="759.07" y1="748.3" y2="750.8" stroke="#bbb" stroke-width="1"/>
<line x1="765.64" x2="765.64" y1="748.3" y2="750.8" stroke="#bbb" stroke-width="1"/>
<line x1="772.22" x2="772.22" y1="748.3" y2="750.8" stroke="#bbb" stroke-width="1"/>
<line x1="778.79" x2="778.79" y1="748.3" y2="750.8" stroke="#bbb" stroke-width="1"/>
<line x1="785.36" x2="785.36" y1="748.3" y2="750.8" stroke="#bbb" stroke-width="1"/>
<line x1="791.93" x2="791.93" y1="748.3" y2="750.8" stroke="#bbb" stroke-width="1"/>
<line x1="798.50" x2="798.50" y1="748.3" y2="750.8" stroke="#bbb" stroke-width="1"/>
<line x1="805.07" x2="805.07" y1="748.3" y2="750.8" stroke="#bbb" stroke-width="1"/>
<line x1="811.64" x2="811.64" y1="748.3" y2="750.8" stroke="#bbb" stroke-width="1"/>
<line x1="818.21" x2="818.21" y1="748.3" y2="750.8" stroke="#bbb" stroke-width="1"/>
<line x1="824.78" x2="824.78" y1="748.3" y2="750.8" stroke="#bbb" stroke-width="1"/>
<line x1="831.35" x2="831.35" y1="748.3" y2="750.8" stroke="#bbb" stroke-width="1"/>
<line x1="837.93" x2="837.93" y1="748.3" y2="750.8" stroke="#bbb" stroke-width="1"/>
<line x1="844.50" x2="844.50" y1="748.3" y2="750.8" stroke="#bbb" stroke-width="1"/>
<line x1="851.07" x2="851.07" y1="748.3" y2="750.8" stroke="#bbb" stroke-width="1"/>
<line x1="857.64" x2="857.64" y1="748.3" y2="750.8" stroke="#bbb" stroke-width="1"/>
<line x1="864.21" x2="864.21" y1="748.3" y2="750.8" stroke="#bbb" stroke-width="1"/>
<line x1="870.78" x2="870.78" y1="748.3" y2="750.8" stroke="#bbb" stroke-width="1"/>
<line x1="877.35" x2="877.35" y1="748.3" y2="750.8" stroke="#bbb" stroke-width="1"/>
<line x1="883.92" x2="883.92" y1="748.3" y2="750.8" stroke="#bbb" stroke-width="1"/>
<line x1="890.49" x2="890.49" y1="748.3" y2="750.8" stroke="#bbb" stroke-width="1"/>
<line x1="897.06" x2="897.06" y1="748.3" y2="750.8" stroke="#bbb" stroke-width="1"/>
<line x1="903.64" x2="903.64" y1="748.3" y2="750.8" stroke="#bbb" stroke-width="1"/>
<line x1="910.21" x2="910.21" y1="748.3" y2="750.8" stroke="#bbb" stroke-width="1"/>
<line x1="916.78" x2="916.78" y1="748.3" y2="750.8" stroke="#bbb" stroke-width="1"/>
<line x1="923.35" x2="923.35" y1="748.3" y2="750.8" stroke="#bbb" stroke-width="1"/>
<line x1="929.92" x2="929.92" y1="748.3" y2="750.8" stroke="#bbb" stroke-width="1"/>
<line x1="936.49" x2="936.49" y1="748.3" y2="750.8" stroke="#bbb" stroke-width="1"/>
<line x1="943.06" x2="943.06" y1="748.3" y2="750.8" stroke="#bbb" stroke-width="1"/>
<line x1="949.63" x2="949.63" y1="748.3" y2="750.8" stroke="#bbb" stroke-width="1"/>
<text x="42.34" y="760.7" font-family="Liberation Sans, sans-serif" font-size="12.5" fill="#000" text-anchor="middle">13</text>
<text x="75.19" y="760.7" font-family="Liberation Sans, sans-serif" font-size="12.5" fill="#000" text-anchor="middle">20</text>
<text x="108.05" y="760.7" font-family="Liberation Sans, sans-serif" font-size="12.5" fill="#000" text-anchor="middle">27</text>
<text x="142.00" y="760.7" font-family="Liberation Sans, sans-serif" font-size="14.6" font-weight="bold" fill="#000" text-anchor="middle">Jun</text>
<text x="173.75" y="760.7" font-family="Liberation Sans, sans-serif" font-size="12.5" fill="#000" text-anchor="middle">10</text>
<text x="206.61" y="760.7" font-family="Liberation Sans, sans-serif" font-size="12.5" fill="#000" text-anchor="middle">17</text>
<text x="239.47" y="760.7" font-family="Liberation Sans, sans-serif" font-size="12.5" fill="#000" text-anchor="middle">24</text>
<text x="273.42" y="760.7" font-family="Liberation Sans, sans-serif" font-size="14.6" font-weight="bold" fill="#000" text-anchor="middle">Jul</text>
<text x="305.18" y="760.7" font-family="Liberation Sans, sans-serif" font-size="12.5" fill="#000" text-anchor="middle">8</text>
<text x="338.03" y="760.7" font-family="Liberation Sans, sans-serif" font-size="12.5" fill="#000" text-anchor="middle">15</text>
<text x="370.88" y="760.7" font-family="Liberation Sans, sans-serif" font-size="12.5" fill="#000" text-anchor="middle">22</text>
<text x="403.74" y="760.7" font-family="Liberation Sans, sans-serif" font-size="12.5" fill="#000" text-anchor="middle">29</text>
<text x="424.55" y="760.7" font-family="Liberation Sans, sans-serif" font-size="14.6" font-weight="bold" fill="#000" text-anchor="middle">Aug</text>
<text x="469.45" y="760.7" font-family="Liberation Sans, sans-serif" font-size="12.5" fill="#000" text-anchor="middle">12</text>
<text x="502.30" y="760.7" font-family="Liberation Sans, sans-serif" font-size="12.5" fill="#000" text-anchor="middle">19</text>
<text x="535.16" y="760.7" font-family="Liberation Sans, sans-serif" font-size="12.5" fill="#000" text-anchor="middle">26</text>
<text x="569.12" y="760.7" font-family="Liberation Sans, sans-serif" font-size="14.6" font-weight="bold" fill="#000" text-anchor="middle">Sep</text>
<text x="600.87" y="760.7" font-family="Liberation Sans, sans-serif" font-size="12.5" fill="#000" text-anchor="middle">9</text>
<text x="633.73" y="760.7" font-family="Liberation Sans, sans-serif" font-size="12.5" fill="#000" text-anchor="middle">16</text>
<text x="666.58" y="760.7" font-family="Liberation Sans, sans-serif" font-size="12.5" fill="#000" text-anchor="middle">23</text>
<text x="707.11" y="760.7" font-family="Liberation Sans, sans-serif" font-size="14.6" font-weight="bold" fill="#000" text-anchor="middle">Oct</text>
<text x="732.29" y="760.7" font-family="Liberation Sans, sans-serif" font-size="12.5" fill="#000" text-anchor="middle">7</text>
<text x="765.14" y="760.7" font-family="Liberation Sans, sans-serif" font-size="12.5" fill="#000" text-anchor="middle">14</text>
<text x="798.00" y="760.7" font-family="Liberation Sans, sans-serif" font-size="12.5" fill="#000" text-anchor="middle">21</text>
<text x="830.85" y="760.7" font-family="Liberation Sans, sans-serif" font-size="12.5" fill="#000" text-anchor="middle">28</text>
<text x="858.24" y="760.7" font-family="Liberation Sans, sans-serif" font-size="14.6" font-weight="bold" fill="#000" text-anchor="middle">Nov</text>
<text x="896.56" y="760.7" font-family="Liberation Sans, sans-serif" font-size="12.5" fill="#000" text-anchor="middle">11</text>
<text x="929.42" y="760.7" font-family="Liberation Sans, sans-serif" font-size="12.5" fill="#000" text-anchor="middle">18</text>
<line x1="16.5" x2="958.5" y1="478.80" y2="478.80" stroke="#e7e7e7" stroke-width="1.2"/>
<line x1="16.5" x2="958.5" y1="568.20" y2="568.20" stroke="#e7e7e7" stroke-width="1.2"/>
<line x1="16.5" x2="958.5" y1="590.55" y2="590.55" stroke="#e7e7e7" stroke-width="1.2"/>
<clipPath id="cup"><rect x="16.5" y="462.1" width="942.0" height="39.05"/></clipPath>
<clipPath id="cdn"><rect x="16.5" y="545.85" width="942.0" height="59.45"/></clipPath>
<polygon points="16.5,501.15 16.50,540.10 23.12,532.56 29.69,541.42 36.26,544.81 42.84,545.19 49.41,545.19 55.98,565.92 62.55,564.03 69.12,554.23 75.69,551.41 82.26,545.75 88.83,537.27 95.40,530.11 101.97,532.56 108.55,536.33 115.12,541.42 121.69,520.87 128.26,525.02 134.83,533.88 141.40,547.07 147.97,553.67 154.54,546.32 161.11,548.58 167.68,531.62 174.25,486.76 180.83,484.12 187.40,515.97 193.97,499.95 200.54,498.64 207.11,502.97 213.68,511.45 220.25,499.01 226.82,505.23 233.39,497.69 239.97,506.55 246.54,506.55 253.11,495.81 259.68,499.95 266.25,501.46 272.82,506.17 279.39,505.23 285.96,526.34 292.53,522.19 299.10,565.92 305.68,560.83 312.25,546.32 318.82,547.07 325.39,571.19 331.96,568.93 338.53,563.28 345.10,552.35 351.67,558.00 358.24,548.58 364.81,541.04 371.38,539.53 377.96,535.76 384.53,535.76 391.10,533.88 397.67,532.56 404.24,525.96 410.81,519.93 417.38,536.71 423.95,531.62 430.52,565.54 437.10,595.70 443.67,571.19 450.24,555.18 456.81,548.96 463.38,545.75 469.95,541.98 476.52,549.52 483.09,552.35 489.66,540.66 496.23,544.43 502.80,551.97 509.38,558.94 515.95,563.28 522.52,554.80 529.09,559.32 535.66,557.63 542.23,554.23 548.80,545.75 555.37,537.27 561.94,531.24 568.51,527.85 575.09,526.34 581.66,531.99 588.23,536.89 594.80,538.21 601.37,525.02 607.94,518.80 614.51,516.54 621.08,518.42 627.65,546.69 634.23,553.86 640.80,549.52 647.37,552.73 653.94,540.66 660.51,545.19 667.08,536.89 673.65,547.64 680.22,541.98 686.79,541.98 693.36,545.19 699.93,537.65 706.51,522.19 713.08,507.12 719.65,494.87 726.22,488.27 732.79,488.27 739.36,492.42 745.93,489.21 752.50,490.53 759.07,497.32 765.64,495.81 772.22,498.64 778.79,498.64 785.36,497.32 791.93,501.09 798.50,499.95 805.07,499.95 811.64,495.81 818.21,499.58 824.78,501.46 831.35,499.95 837.93,499.95 844.50,506.17 851.07,510.32 857.64,510.32 864.21,516.54 870.78,525.96 877.35,488.27 883.92,497.69 890.49,491.66 897.06,477.90 903.64,471.31 910.21,474.70 916.78,476.58 923.35,486.39 929.92,495.43 936.49,501.46 943.06,499.95 949.63,501.46 949.63,501.15" fill="#7a9b7a" clip-path="url(#cup)"/>
<polygon points="16.5,545.85 16.50,540.10 23.12,532.56 29.69,541.42 36.26,544.81 42.84,545.19 49.41,545.19 55.98,565.92 62.55,564.03 69.12,554.23 75.69,551.41 82.26,545.75 88.83,537.27 95.40,530.11 101.97,532.56 108.55,536.33 115.12,541.42 121.69,520.87 128.26,525.02 134.83,533.88 141.40,547.07 147.97,553.67 154.54,546.32 161.11,548.58 167.68,531.62 174.25,486.76 180.83,484.12 187.40,515.97 193.97,499.95 200.54,498.64 207.11,502.97 213.68,511.45 220.25,499.01 226.82,505.23 233.39,497.69 239.97,506.55 246.54,506.55 253.11,495.81 259.68,499.95 266.25,501.46 272.82,506.17 279.39,505.23 285.96,526.34 292.53,522.19 299.10,565.92 305.68,560.83 312.25,546.32 318.82,547.07 325.39,571.19 331.96,568.93 338.53,563.28 345.10,552.35 351.67,558.00 358.24,548.58 364.81,541.04 371.38,539.53 377.96,535.76 384.53,535.76 391.10,533.88 397.67,532.56 404.24,525.96 410.81,519.93 417.38,536.71 423.95,531.62 430.52,565.54 437.10,595.70 443.67,571.19 450.24,555.18 456.81,548.96 463.38,545.75 469.95,541.98 476.52,549.52 483.09,552.35 489.66,540.66 496.23,544.43 502.80,551.97 509.38,558.94 515.95,563.28 522.52,554.80 529.09,559.32 535.66,557.63 542.23,554.23 548.80,545.75 555.37,537.27 561.94,531.24 568.51,527.85 575.09,526.34 581.66,531.99 588.23,536.89 594.80,538.21 601.37,525.02 607.94,518.80 614.51,516.54 621.08,518.42 627.65,546.69 634.23,553.86 640.80,549.52 647.37,552.73 653.94,540.66 660.51,545.19 667.08,536.89 673.65,547.64 680.22,541.98 686.79,541.98 693.36,545.19 699.93,537.65 706.51,522.19 713.08,507.12 719.65,494.87 726.22,488.27 732.79,488.27 739.36,492.42 745.93,489.21 752.50,490.53 759.07,497.32 765.64,495.81 772.22,498.64 778.79,498.64 785.36,497.32 791.93,501.09 798.50,499.95 805.07,499.95 811.64,495.81 818.21,499.58 824.78,501.46 831.35,499.95 837.93,499.95 844.50,506.17 851.07,510.32 857.64,510.32 864.21,516.54 870.78,525.96 877.35,488.27 883.92,497.69 890.49,491.66 897.06,477.90 903.64,471.31 910.21,474.70 916.78,476.58 923.35,486.39 929.92,495.43 936.49,501.46 943.06,499.95 949.63,501.46 949.63,545.85" fill="#a87878" clip-path="url(#cdn)"/>
<line x1="16.5" x2="958.5" y1="501.15" y2="501.15" stroke="#666" stroke-width="1.2"/>
<line x1="16.5" x2="958.5" y1="545.85" y2="545.85" stroke="#666" stroke-width="1.2"/>
<line x1="16.5" x2="958.5" y1="523.50" y2="523.50" stroke="#666" stroke-width="1.5" stroke-dasharray="12.5 3 2.8 3.2"/>
<polyline points="16.50,540.10 23.12,532.56 29.69,541.42 36.26,544.81 42.84,545.19 49.41,545.19 55.98,565.92 62.55,564.03 69.12,554.23 75.69,551.41 82.26,545.75 88.83,537.27 95.40,530.11 101.97,532.56 108.55,536.33 115.12,541.42 121.69,520.87 128.26,525.02 134.83,533.88 141.40,547.07 147.97,553.67 154.54,546.32 161.11,548.58 167.68,531.62 174.25,486.76 180.83,484.12 187.40,515.97 193.97,499.95 200.54,498.64 207.11,502.97 213.68,511.45 220.25,499.01 226.82,505.23 233.39,497.69 239.97,506.55 246.54,506.55 253.11,495.81 259.68,499.95 266.25,501.46 272.82,506.17 279.39,505.23 285.96,526.34 292.53,522.19 299.10,565.92 305.68,560.83 312.25,546.32 318.82,547.07 325.39,571.19 331.96,568.93 338.53,563.28 345.10,552.35 351.67,558.00 358.24,548.58 364.81,541.04 371.38,539.53 377.96,535.76 384.53,535.76 391.10,533.88 397.67,532.56 404.24,525.96 410.81,519.93 417.38,536.71 423.95,531.62 430.52,565.54 437.10,595.70 443.67,571.19 450.24,555.18 456.81,548.96 463.38,545.75 469.95,541.98 476.52,549.52 483.09,552.35 489.66,540.66 496.23,544.43 502.80,551.97 509.38,558.94 515.95,563.28 522.52,554.80 529.09,559.32 535.66,557.63 542.23,554.23 548.80,545.75 555.37,537.27 561.94,531.24 568.51,527.85 575.09,526.34 581.66,531.99 588.23,536.89 594.80,538.21 601.37,525.02 607.94,518.80 614.51,516.54 621.08,518.42 627.65,546.69 634.23,553.86 640.80,549.52 647.37,552.73 653.94,540.66 660.51,545.19 667.08,536.89 673.65,547.64 680.22,541.98 686.79,541.98 693.36,545.19 699.93,537.65 706.51,522.19 713.08,507.12 719.65,494.87 726.22,488.27 732.79,488.27 739.36,492.42 745.93,489.21 752.50,490.53 759.07,497.32 765.64,495.81 772.22,498.64 778.79,498.64 785.36,497.32 791.93,501.09 798.50,499.95 805.07,499.95 811.64,495.81 818.21,499.58 824.78,501.46 831.35,499.95 837.93,499.95 844.50,506.17 851.07,510.32 857.64,510.32 864.21,516.54 870.78,525.96 877.35,488.27 883.92,497.69 890.49,491.66 897.06,477.90 903.64,471.31 910.21,474.70 916.78,476.58 923.35,486.39 929.92,495.43 936.49,501.46 943.06,499.95 949.63,501.46" fill="none" stroke="#111" stroke-width="1.5" stroke-linejoin="round"/>
<line x1="958.5" x2="962.0" y1="478.80" y2="478.80" stroke="#bbb" stroke-width="1"/>
<text x="989.7" y="482.50" font-family="Liberation Sans, sans-serif" font-size="13.4" fill="#000" text-anchor="end">200</text>
<line x1="958.5" x2="962.0" y1="501.15" y2="501.15" stroke="#bbb" stroke-width="1"/>
<text x="989.7" y="504.85" font-family="Liberation Sans, sans-serif" font-size="13.4" fill="#000" text-anchor="end">100</text>
<line x1="958.5" x2="962.0" y1="523.50" y2="523.50" stroke="#bbb" stroke-width="1"/>
<text x="989.7" y="527.20" font-family="Liberation Sans, sans-serif" font-size="13.4" fill="#000" text-anchor="end">0</text>
<line x1="958.5" x2="962.0" y1="545.85" y2="545.85" stroke="#bbb" stroke-width="1"/>
<text x="989.7" y="549.55" font-family="Liberation Sans, sans-serif" font-size="13.4" fill="#000" text-anchor="end">-100</text>
<line x1="958.5" x2="962.0" y1="568.20" y2="568.20" stroke="#bbb" stroke-width="1"/>
<text x="989.7" y="571.90" font-family="Liberation Sans, sans-serif" font-size="13.4" fill="#000" text-anchor="end">-200</text>
<line x1="958.5" x2="962.0" y1="590.55" y2="590.55" stroke="#bbb" stroke-width="1"/>
<text x="989.7" y="594.25" font-family="Liberation Sans, sans-serif" font-size="13.4" fill="#000" text-anchor="end">-300</text>
<rect x="16.5" y="462.1" width="942.0" height="143.19999999999993" fill="none" stroke="#aaaaaa" stroke-width="1.2"/>
<rect x="17.2" y="463.2" width="126" height="14.8" fill="#fff"/>
<path d="M19.5 476 L19.5 471 L22 465.5 L24.5 470 L27 467 L31 472 L31 476 Z" fill="#7a9b7a"/><path d="M19.5 472.5 L22 465.5 L24.5 470 L27 467 L30.8 472.5 L30.8 467" fill="none" stroke="#111" stroke-width="1.1"/>
<text x="36.1" y="475.8" font-family="Liberation Sans, sans-serif" font-size="13" fill="#000" textLength="104" lengthAdjust="spacing">CCI(20) 98.21</text>
<line x1="16.5" x2="958.5" y1="739.54" y2="739.54" stroke="#e7e7e7" stroke-width="1.2"/>
<line x1="16.5" x2="958.5" y1="727.07" y2="727.07" stroke="#e7e7e7" stroke-width="1.2"/>
<line x1="16.5" x2="958.5" y1="702.13" y2="702.13" stroke="#e7e7e7" stroke-width="1.2"/>
<line x1="16.5" x2="958.5" y1="689.67" y2="689.67" stroke="#e7e7e7" stroke-width="1.2"/>
<line x1="16.5" x2="958.5" y1="664.73" y2="664.73" stroke="#e7e7e7" stroke-width="1.2"/>
<line x1="16.5" x2="958.5" y1="652.27" y2="652.27" stroke="#e7e7e7" stroke-width="1.2"/>
<line x1="16.5" x2="958.5" y1="627.33" y2="627.33" stroke="#e7e7e7" stroke-width="1.2"/>
<line x1="16.5" x2="958.5" y1="614.87" y2="614.87" stroke="#e7e7e7" stroke-width="1.2"/>
<line x1="16.5" x2="958.5" y1="639.80" y2="639.80" stroke="#555" stroke-width="1.15"/>
<line x1="16.5" x2="958.5" y1="714.60" y2="714.60" stroke="#555" stroke-width="1.15"/>
<line x1="16.5" x2="958.5" y1="677.20" y2="677.20" stroke="#555" stroke-width="1.3" stroke-dasharray="12.5 3 2.8 3.2"/>
<line x1="958.5" x2="960.7" y1="733.30" y2="733.30" stroke="#bbb" stroke-width="1"/>
<line x1="958.5" x2="962.0" y1="727.07" y2="727.07" stroke="#bbb" stroke-width="1"/>
<line x1="958.5" x2="960.7" y1="720.83" y2="720.83" stroke="#bbb" stroke-width="1"/>
<line x1="958.5" x2="962.0" y1="714.60" y2="714.60" stroke="#bbb" stroke-width="1"/>
<line x1="958.5" x2="960.7" y1="708.37" y2="708.37" stroke="#bbb" stroke-width="1"/>
<line x1="958.5" x2="962.0" y1="702.13" y2="702.13" stroke="#bbb" stroke-width="1"/>
<line x1="958.5" x2="960.7" y1="695.90" y2="695.90" stroke="#bbb" stroke-width="1"/>
<line x1="958.5" x2="962.0" y1="689.67" y2="689.67" stroke="#bbb" stroke-width="1"/>
<line x1="958.5" x2="960.7" y1="683.43" y2="683.43" stroke="#bbb" stroke-width="1"/>
<line x1="958.5" x2="962.0" y1="677.20" y2="677.20" stroke="#bbb" stroke-width="1"/>
<line x1="958.5" x2="960.7" y1="670.97" y2="670.97" stroke="#bbb" stroke-width="1"/>
<line x1="958.5" x2="962.0" y1="664.73" y2="664.73" stroke="#bbb" stroke-width="1"/>
<line x1="958.5" x2="960.7" y1="658.50" y2="658.50" stroke="#bbb" stroke-width="1"/>
<line x1="958.5" x2="962.0" y1="652.27" y2="652.27" stroke="#bbb" stroke-width="1"/>
<line x1="958.5" x2="960.7" y1="646.03" y2="646.03" stroke="#bbb" stroke-width="1"/>
<line x1="958.5" x2="962.0" y1="639.80" y2="639.80" stroke="#bbb" stroke-width="1"/>
<line x1="958.5" x2="960.7" y1="633.57" y2="633.57" stroke="#bbb" stroke-width="1"/>
<line x1="958.5" x2="962.0" y1="627.33" y2="627.33" stroke="#bbb" stroke-width="1"/>
<line x1="958.5" x2="960.7" y1="621.10" y2="621.10" stroke="#bbb" stroke-width="1"/>
<line x1="958.5" x2="962.0" y1="614.87" y2="614.87" stroke="#bbb" stroke-width="1"/>
<rect x="17.2" y="606.2" width="300" height="14.6" fill="#fff"/>
<clipPath id="cs"><rect x="16.5" y="605.3" width="942.0" height="143.0"/></clipPath>
<g clip-path="url(#cs)">
<polyline points="16.50,709.03 23.12,702.06 29.69,690.88 36.26,687.42 42.84,689.31 49.41,693.58 55.98,702.25 62.55,711.48 69.12,720.72 75.69,722.10 82.26,718.83 88.83,708.66 95.40,695.46 101.97,683.02 108.55,678.12 115.12,683.28 121.69,684.28 128.26,681.77 134.83,673.35 141.40,679.13 147.97,692.51 154.54,710.23 161.11,719.15 167.68,709.72 174.25,688.99 180.83,659.22 187.40,645.39 193.97,640.05 200.54,643.64 207.11,641.44 213.68,641.44 220.25,641.00 226.82,641.31 233.39,635.47 239.97,631.51 246.54,629.81 253.11,631.57 259.68,631.13 266.25,629.88 272.82,630.19 279.39,634.09 285.96,644.89 292.53,660.91 299.10,683.21 305.68,701.12 312.25,715.06 318.82,717.58 325.39,717.26 331.96,717.45 338.53,721.22 345.10,726.37 351.67,728.26 358.24,727.31 364.81,722.79 371.38,714.44 377.96,705.01 384.53,695.59 391.10,688.24 397.67,682.59 404.24,677.87 410.81,672.22 417.38,667.95 423.95,664.49 430.52,673.29 437.10,684.78 443.67,702.50 450.24,706.27 456.81,703.76 463.38,695.15 469.95,691.38 476.52,693.89 483.09,700.18 489.66,707.53 496.23,712.24 502.80,716.01 509.38,722.48 515.95,729.83 522.52,732.15 529.09,730.27 535.66,726.06 542.23,727.69 548.80,727.38 555.37,725.18 561.94,713.68 568.51,701.12 575.09,688.87 581.66,684.16 588.23,684.60 594.80,687.55 601.37,682.84 607.94,670.15 614.51,653.18 621.08,643.76 627.65,649.10 634.23,668.64 640.80,693.14 647.37,710.10 653.94,715.76 660.51,714.06 667.08,709.66 673.65,707.59 680.22,705.33 686.79,707.09 693.36,708.34 699.93,711.48 706.51,707.53 713.08,690.88 719.65,665.31 726.22,639.55 732.79,626.99 739.36,622.40 745.93,621.90 752.50,620.52 759.07,620.52 765.64,621.46 772.22,622.02 778.79,620.33 785.36,618.63 791.93,618.63 798.50,619.89 805.07,621.15 811.64,620.20 818.21,621.90 824.78,624.85 831.35,630.07 837.93,631.95 844.50,635.59 851.07,640.75 857.64,647.22 864.21,652.24 870.78,662.80 877.35,672.53 883.92,680.70 890.49,670.46 897.06,658.84 903.64,641.75 910.21,631.89 916.78,624.16 923.35,622.72 929.92,626.49 936.49,631.70 943.06,636.22 949.63,636.54" fill="none" stroke="#f01010" stroke-width="1.4" stroke-linejoin="round"/>
<polyline points="16.50,698.29 23.12,688.87 29.69,685.47 36.26,687.92 42.84,694.52 49.41,698.29 55.98,713.93 62.55,722.23 69.12,726.00 75.69,718.08 82.26,712.43 88.83,695.46 95.40,678.50 101.97,675.11 108.55,680.76 115.12,693.96 121.69,678.12 128.26,673.22 134.83,668.70 141.40,695.46 147.97,713.37 154.54,721.85 161.11,722.23 167.68,685.10 174.25,659.66 180.83,632.89 187.40,643.64 193.97,643.64 200.54,643.64 207.11,637.04 213.68,643.64 220.25,642.32 226.82,637.98 233.39,626.11 239.97,630.44 246.54,632.89 253.11,631.39 259.68,629.12 266.25,629.12 272.82,632.33 279.39,640.81 285.96,661.54 292.53,680.39 299.10,707.71 305.68,715.25 312.25,722.23 318.82,715.25 325.39,714.31 331.96,722.79 338.53,726.56 345.10,729.76 351.67,728.45 358.24,723.73 364.81,716.19 371.38,703.38 377.96,695.46 384.53,687.92 391.10,681.33 397.67,678.50 404.24,673.79 410.81,664.37 417.38,665.69 423.95,663.42 430.52,690.75 437.10,700.18 443.67,716.57 450.24,702.06 456.81,692.64 463.38,690.75 469.95,690.75 476.52,700.18 483.09,709.60 489.66,712.80 496.23,714.31 502.80,720.91 509.38,732.21 515.95,736.36 522.52,727.88 529.09,726.56 535.66,723.73 542.23,732.78 548.80,725.62 555.37,717.14 561.94,698.29 568.51,687.92 575.09,680.39 581.66,684.16 588.23,689.24 594.80,689.24 601.37,670.02 607.94,651.17 614.51,638.36 621.08,641.75 627.65,667.19 634.23,696.97 640.80,715.25 647.37,718.08 653.94,713.93 660.51,710.16 667.08,704.89 673.65,707.71 680.22,703.38 686.79,710.16 693.36,711.48 699.93,712.80 706.51,698.29 713.08,661.54 719.65,636.10 726.22,621.02 732.79,623.85 739.36,622.34 745.93,619.51 752.50,619.70 759.07,622.34 765.64,622.34 772.22,621.40 778.79,617.25 785.36,617.25 791.93,621.40 798.50,621.02 805.07,621.02 811.64,618.57 818.21,626.11 824.78,629.88 831.35,634.21 837.93,631.76 844.50,640.81 851.07,649.67 857.64,651.17 864.21,655.89 870.78,681.33 877.35,680.39 883.92,680.39 890.49,650.61 897.06,645.52 903.64,629.12 910.21,621.02 916.78,622.34 923.35,624.79 929.92,632.33 936.49,637.98 943.06,638.36 949.63,633.27" fill="none" stroke="#000" stroke-width="2.25" stroke-linejoin="round"/>
</g>
<text x="963.3" y="643.20" font-family="Liberation Sans, sans-serif" font-size="13.4" fill="#000">80</text>
<text x="963.3" y="680.60" font-family="Liberation Sans, sans-serif" font-size="13.4" fill="#000">50</text>
<text x="963.3" y="718.00" font-family="Liberation Sans, sans-serif" font-size="13.4" fill="#000">20</text>
<rect x="16.5" y="605.3" width="942.0" height="143.0" fill="none" stroke="#aaaaaa" stroke-width="1.2"/>
<line x1="19.8" x2="31.8" y1="613.8" y2="613.8" stroke="#000" stroke-width="2.7"/>
<text x="36.1" y="618.6" font-family="Liberation Sans, sans-serif" font-size="13" fill="#000" textLength="231.5" lengthAdjust="spacing">Slow STO %K(14) %D(3) 85.86,</text>
<text x="274" y="618.6" font-family="Liberation Sans, sans-serif" font-size="13" fill="#ee1111" textLength="41" lengthAdjust="spacing">83.23</text>
</svg>
</body></html>
